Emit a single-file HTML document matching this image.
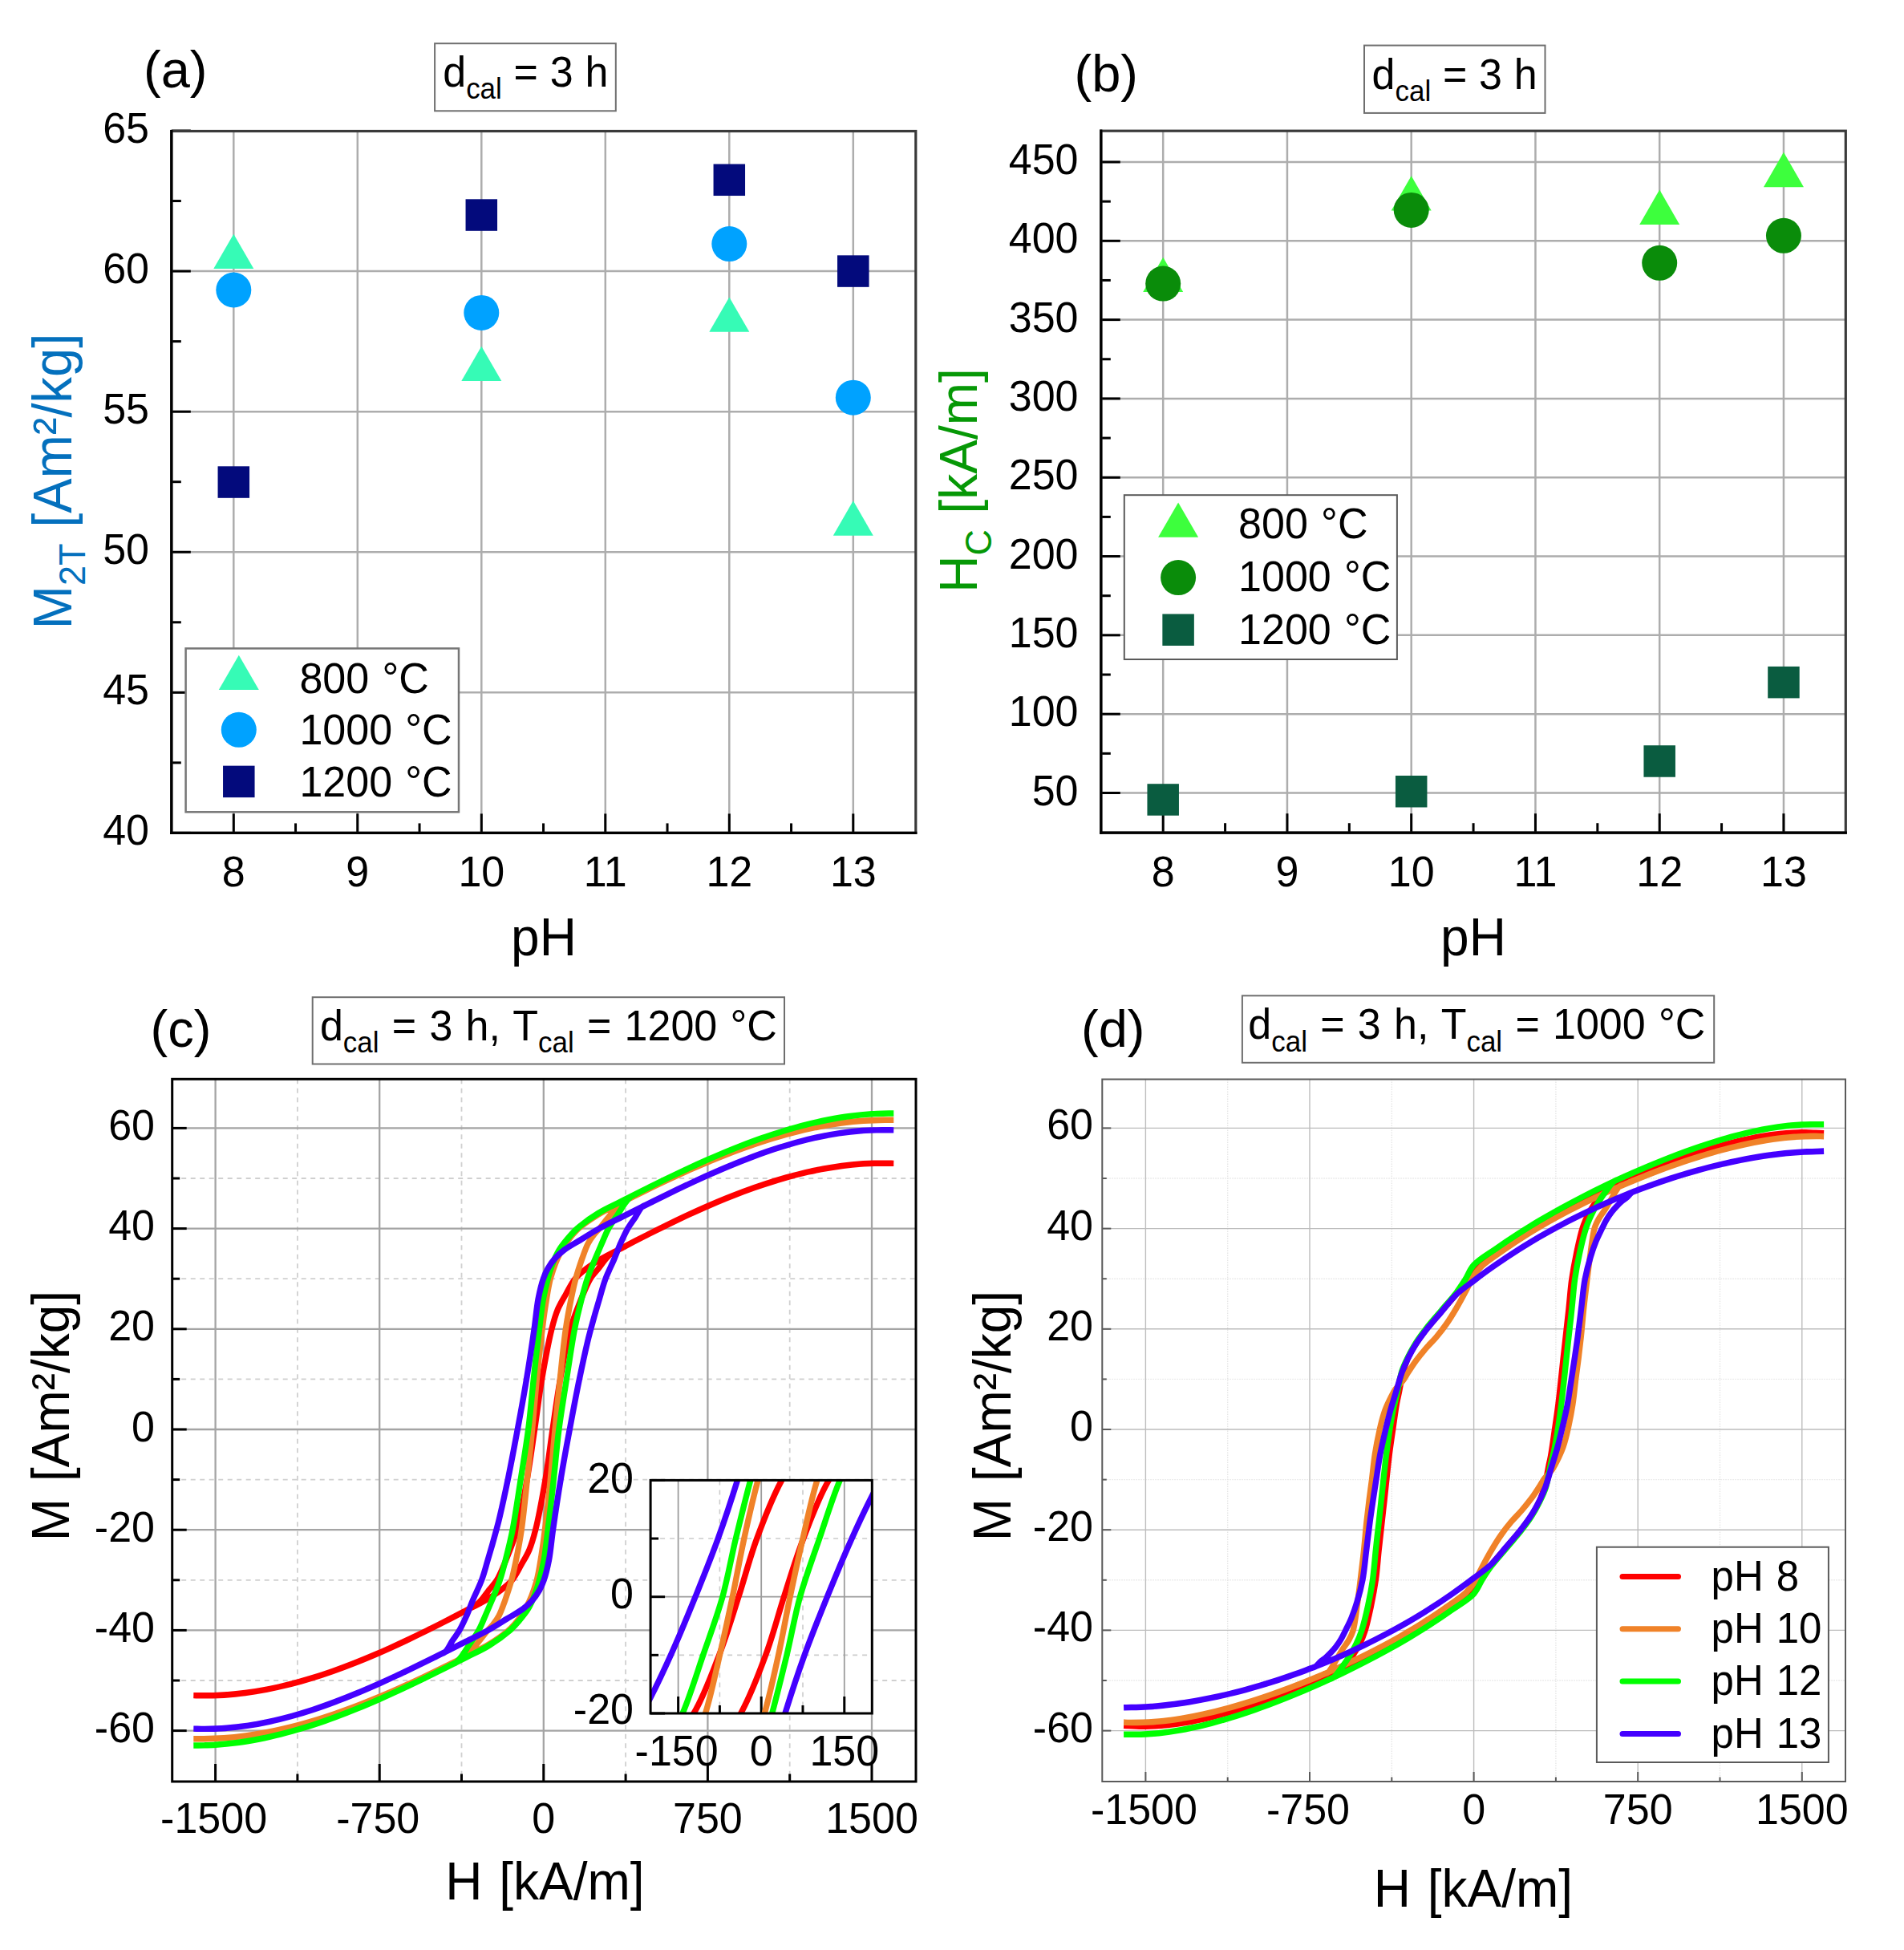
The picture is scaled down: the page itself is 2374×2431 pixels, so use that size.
<!DOCTYPE html>
<html><head><meta charset="utf-8"><title>Figure</title>
<style>
html,body{margin:0;padding:0;background:#fff;}
svg{display:block;font-family:'Liberation Sans', Arial, sans-serif;}
</style></head>
<body>
<svg word-spacing="1.8" width="2374" height="2431" viewBox="0 0 2374 2431" font-family="'Liberation Sans', Arial, sans-serif">
<rect x="0" y="0" width="2374" height="2431" fill="#ffffff"/>
<line x1="291.30" y1="163.50" x2="291.30" y2="1038.40" stroke="#adadad" stroke-width="2.5" />
<line x1="445.80" y1="163.50" x2="445.80" y2="1038.40" stroke="#adadad" stroke-width="2.5" />
<line x1="600.30" y1="163.50" x2="600.30" y2="1038.40" stroke="#adadad" stroke-width="2.5" />
<line x1="754.80" y1="163.50" x2="754.80" y2="1038.40" stroke="#adadad" stroke-width="2.5" />
<line x1="909.30" y1="163.50" x2="909.30" y2="1038.40" stroke="#adadad" stroke-width="2.5" />
<line x1="1063.80" y1="163.50" x2="1063.80" y2="1038.40" stroke="#adadad" stroke-width="2.5" />
<line x1="213.80" y1="863.32" x2="1141.80" y2="863.32" stroke="#adadad" stroke-width="2.5" />
<line x1="213.80" y1="688.24" x2="1141.80" y2="688.24" stroke="#adadad" stroke-width="2.5" />
<line x1="213.80" y1="513.16" x2="1141.80" y2="513.16" stroke="#adadad" stroke-width="2.5" />
<line x1="213.80" y1="338.08" x2="1141.80" y2="338.08" stroke="#adadad" stroke-width="2.5" />
<line x1="291.30" y1="1038.40" x2="291.30" y2="1014.40" stroke="#000" stroke-width="3" />
<line x1="445.80" y1="1038.40" x2="445.80" y2="1014.40" stroke="#000" stroke-width="3" />
<line x1="600.30" y1="1038.40" x2="600.30" y2="1014.40" stroke="#000" stroke-width="3" />
<line x1="754.80" y1="1038.40" x2="754.80" y2="1014.40" stroke="#000" stroke-width="3" />
<line x1="909.30" y1="1038.40" x2="909.30" y2="1014.40" stroke="#000" stroke-width="3" />
<line x1="1063.80" y1="1038.40" x2="1063.80" y2="1014.40" stroke="#000" stroke-width="3" />
<line x1="368.55" y1="1038.40" x2="368.55" y2="1026.40" stroke="#000" stroke-width="3" />
<line x1="523.05" y1="1038.40" x2="523.05" y2="1026.40" stroke="#000" stroke-width="3" />
<line x1="677.55" y1="1038.40" x2="677.55" y2="1026.40" stroke="#000" stroke-width="3" />
<line x1="832.05" y1="1038.40" x2="832.05" y2="1026.40" stroke="#000" stroke-width="3" />
<line x1="986.55" y1="1038.40" x2="986.55" y2="1026.40" stroke="#000" stroke-width="3" />
<line x1="213.80" y1="1038.40" x2="237.80" y2="1038.40" stroke="#000" stroke-width="3" />
<line x1="213.80" y1="863.32" x2="237.80" y2="863.32" stroke="#000" stroke-width="3" />
<line x1="213.80" y1="688.24" x2="237.80" y2="688.24" stroke="#000" stroke-width="3" />
<line x1="213.80" y1="513.16" x2="237.80" y2="513.16" stroke="#000" stroke-width="3" />
<line x1="213.80" y1="338.08" x2="237.80" y2="338.08" stroke="#000" stroke-width="3" />
<line x1="213.80" y1="163.00" x2="237.80" y2="163.00" stroke="#000" stroke-width="3" />
<line x1="213.80" y1="950.86" x2="225.80" y2="950.86" stroke="#000" stroke-width="3" />
<line x1="213.80" y1="775.78" x2="225.80" y2="775.78" stroke="#000" stroke-width="3" />
<line x1="213.80" y1="600.70" x2="225.80" y2="600.70" stroke="#000" stroke-width="3" />
<line x1="213.80" y1="425.62" x2="225.80" y2="425.62" stroke="#000" stroke-width="3" />
<line x1="213.80" y1="250.54" x2="225.80" y2="250.54" stroke="#000" stroke-width="3" />
<polygon points="291.30,291.71 266.30,335.01 316.30,335.01" fill="#36fbb6"/>
<polygon points="600.30,431.77 575.30,475.07 625.30,475.07" fill="#36fbb6"/>
<polygon points="909.30,370.49 884.30,413.79 934.30,413.79" fill="#36fbb6"/>
<polygon points="1063.80,624.36 1038.80,667.66 1088.80,667.66" fill="#36fbb6"/>
<circle cx="291.30" cy="361.54" r="22.0" fill="#00a2ff"/>
<circle cx="600.30" cy="389.90" r="22.0" fill="#00a2ff"/>
<circle cx="909.30" cy="304.11" r="22.0" fill="#00a2ff"/>
<circle cx="1063.80" cy="495.65" r="22.0" fill="#00a2ff"/>
<rect x="271.55" y="581.30" width="39.5" height="39.5" fill="#030a7c"/>
<rect x="580.55" y="248.30" width="39.5" height="39.5" fill="#030a7c"/>
<rect x="889.55" y="204.53" width="39.5" height="39.5" fill="#030a7c"/>
<rect x="1044.05" y="318.33" width="39.5" height="39.5" fill="#030a7c"/>
<rect x="213.80" y="163.50" width="928.00" height="874.90" fill="none" stroke="#3a3a3a" stroke-width="3.2"/>
<line x1="213.80" y1="161.90" x2="213.80" y2="1040.00" stroke="#000" stroke-width="3.2" />
<line x1="212.20" y1="1038.40" x2="1143.40" y2="1038.40" stroke="#000" stroke-width="3.2" />
<text transform="translate(291.30,1104.50) scale(1,1.04)" font-size="52" text-anchor="middle" fill="#000" >8</text>
<text transform="translate(445.80,1104.50) scale(1,1.04)" font-size="52" text-anchor="middle" fill="#000" >9</text>
<text transform="translate(600.30,1104.50) scale(1,1.04)" font-size="52" text-anchor="middle" fill="#000" >10</text>
<text transform="translate(754.80,1104.50) scale(1,1.04)" font-size="52" text-anchor="middle" fill="#000" >11</text>
<text transform="translate(909.30,1104.50) scale(1,1.04)" font-size="52" text-anchor="middle" fill="#000" >12</text>
<text transform="translate(1063.80,1104.50) scale(1,1.04)" font-size="52" text-anchor="middle" fill="#000" >13</text>
<text transform="translate(186.00,1053.40) scale(1,1.04)" font-size="52" text-anchor="end" fill="#000" >40</text>
<text transform="translate(186.00,878.32) scale(1,1.04)" font-size="52" text-anchor="end" fill="#000" >45</text>
<text transform="translate(186.00,703.24) scale(1,1.04)" font-size="52" text-anchor="end" fill="#000" >50</text>
<text transform="translate(186.00,528.16) scale(1,1.04)" font-size="52" text-anchor="end" fill="#000" >55</text>
<text transform="translate(186.00,353.08) scale(1,1.04)" font-size="52" text-anchor="end" fill="#000" >60</text>
<text transform="translate(186.00,178.00) scale(1,1.04)" font-size="52" text-anchor="end" fill="#000" >65</text>
<rect x="231.60" y="808.40" width="340.40" height="203.90" fill="#fff" stroke="#767676" stroke-width="2.5"/>
<polygon points="297.80,816.73 272.80,860.03 322.80,860.03" fill="#36fbb6"/>
<circle cx="297.80" cy="909.80" r="22.0" fill="#00a2ff"/>
<rect x="278.05" y="954.65" width="39.5" height="39.5" fill="#030a7c"/>
<text transform="translate(373.40,863.50) scale(1,1.04)" font-size="52" text-anchor="start" fill="#000" >800 °C</text>
<text transform="translate(373.40,928.10) scale(1,1.04)" font-size="52" text-anchor="start" fill="#000" >1000 °C</text>
<text transform="translate(373.40,992.70) scale(1,1.04)" font-size="52" text-anchor="start" fill="#000" >1200 °C</text>
<rect x="542.10" y="54.20" width="225.70" height="84.10" fill="#fff" stroke="#6e6e6e" stroke-width="2"/>
<text transform="translate(552.20,107.80) scale(1,1.04)" font-size="52" text-anchor="start" fill="#000" word-spacing="0.3">d<tspan font-size="35" dy="15">cal</tspan><tspan dy="-15"> = 3 h</tspan></text>
<text transform="translate(179.00,108.70) scale(1,1.0)" font-size="65" text-anchor="start" fill="#000" >(a)</text>
<text transform="translate(678.00,1191.00) scale(1,1.04)" font-size="64" text-anchor="middle" fill="#000" >pH</text>
<text transform="translate(88.5,600) rotate(-90) scale(1,1.04)" font-size="65" text-anchor="middle" fill="#0470bd">M<tspan font-size="45" dy="17">2T</tspan><tspan dy="-17"> [Am²/kg]</tspan></text>
<line x1="1450.20" y1="163.20" x2="1450.20" y2="1038.20" stroke="#adadad" stroke-width="2.5" />
<line x1="1604.95" y1="163.20" x2="1604.95" y2="1038.20" stroke="#adadad" stroke-width="2.5" />
<line x1="1759.70" y1="163.20" x2="1759.70" y2="1038.20" stroke="#adadad" stroke-width="2.5" />
<line x1="1914.45" y1="163.20" x2="1914.45" y2="1038.20" stroke="#adadad" stroke-width="2.5" />
<line x1="2069.20" y1="163.20" x2="2069.20" y2="1038.20" stroke="#adadad" stroke-width="2.5" />
<line x1="2223.95" y1="163.20" x2="2223.95" y2="1038.20" stroke="#adadad" stroke-width="2.5" />
<line x1="1372.80" y1="988.50" x2="2301.30" y2="988.50" stroke="#adadad" stroke-width="2.5" />
<line x1="1372.80" y1="890.18" x2="2301.30" y2="890.18" stroke="#adadad" stroke-width="2.5" />
<line x1="1372.80" y1="791.87" x2="2301.30" y2="791.87" stroke="#adadad" stroke-width="2.5" />
<line x1="1372.80" y1="693.56" x2="2301.30" y2="693.56" stroke="#adadad" stroke-width="2.5" />
<line x1="1372.80" y1="595.24" x2="2301.30" y2="595.24" stroke="#adadad" stroke-width="2.5" />
<line x1="1372.80" y1="496.93" x2="2301.30" y2="496.93" stroke="#adadad" stroke-width="2.5" />
<line x1="1372.80" y1="398.61" x2="2301.30" y2="398.61" stroke="#adadad" stroke-width="2.5" />
<line x1="1372.80" y1="300.30" x2="2301.30" y2="300.30" stroke="#adadad" stroke-width="2.5" />
<line x1="1372.80" y1="201.98" x2="2301.30" y2="201.98" stroke="#adadad" stroke-width="2.5" />
<line x1="1450.20" y1="1038.20" x2="1450.20" y2="1014.20" stroke="#000" stroke-width="3" />
<line x1="1604.95" y1="1038.20" x2="1604.95" y2="1014.20" stroke="#000" stroke-width="3" />
<line x1="1759.70" y1="1038.20" x2="1759.70" y2="1014.20" stroke="#000" stroke-width="3" />
<line x1="1914.45" y1="1038.20" x2="1914.45" y2="1014.20" stroke="#000" stroke-width="3" />
<line x1="2069.20" y1="1038.20" x2="2069.20" y2="1014.20" stroke="#000" stroke-width="3" />
<line x1="2223.95" y1="1038.20" x2="2223.95" y2="1014.20" stroke="#000" stroke-width="3" />
<line x1="1527.58" y1="1038.20" x2="1527.58" y2="1026.20" stroke="#000" stroke-width="3" />
<line x1="1682.33" y1="1038.20" x2="1682.33" y2="1026.20" stroke="#000" stroke-width="3" />
<line x1="1837.08" y1="1038.20" x2="1837.08" y2="1026.20" stroke="#000" stroke-width="3" />
<line x1="1991.83" y1="1038.20" x2="1991.83" y2="1026.20" stroke="#000" stroke-width="3" />
<line x1="2146.57" y1="1038.20" x2="2146.57" y2="1026.20" stroke="#000" stroke-width="3" />
<line x1="1372.80" y1="988.50" x2="1396.80" y2="988.50" stroke="#000" stroke-width="3" />
<line x1="1372.80" y1="890.18" x2="1396.80" y2="890.18" stroke="#000" stroke-width="3" />
<line x1="1372.80" y1="791.87" x2="1396.80" y2="791.87" stroke="#000" stroke-width="3" />
<line x1="1372.80" y1="693.56" x2="1396.80" y2="693.56" stroke="#000" stroke-width="3" />
<line x1="1372.80" y1="595.24" x2="1396.80" y2="595.24" stroke="#000" stroke-width="3" />
<line x1="1372.80" y1="496.93" x2="1396.80" y2="496.93" stroke="#000" stroke-width="3" />
<line x1="1372.80" y1="398.61" x2="1396.80" y2="398.61" stroke="#000" stroke-width="3" />
<line x1="1372.80" y1="300.30" x2="1396.80" y2="300.30" stroke="#000" stroke-width="3" />
<line x1="1372.80" y1="201.98" x2="1396.80" y2="201.98" stroke="#000" stroke-width="3" />
<line x1="1372.80" y1="939.34" x2="1384.80" y2="939.34" stroke="#000" stroke-width="3" />
<line x1="1372.80" y1="841.03" x2="1384.80" y2="841.03" stroke="#000" stroke-width="3" />
<line x1="1372.80" y1="742.71" x2="1384.80" y2="742.71" stroke="#000" stroke-width="3" />
<line x1="1372.80" y1="644.40" x2="1384.80" y2="644.40" stroke="#000" stroke-width="3" />
<line x1="1372.80" y1="546.08" x2="1384.80" y2="546.08" stroke="#000" stroke-width="3" />
<line x1="1372.80" y1="447.77" x2="1384.80" y2="447.77" stroke="#000" stroke-width="3" />
<line x1="1372.80" y1="349.45" x2="1384.80" y2="349.45" stroke="#000" stroke-width="3" />
<line x1="1372.80" y1="251.14" x2="1384.80" y2="251.14" stroke="#000" stroke-width="3" />
<polygon points="1450.20,320.78 1425.20,364.08 1475.20,364.08" fill="#3dff3d"/>
<polygon points="1759.70,219.32 1734.70,262.62 1784.70,262.62" fill="#3dff3d"/>
<polygon points="2069.20,236.62 2044.20,279.92 2094.20,279.92" fill="#3dff3d"/>
<polygon points="2223.95,189.83 2198.95,233.13 2248.95,233.13" fill="#3dff3d"/>
<circle cx="1450.20" cy="353.58" r="22.0" fill="#0a8c0a"/>
<circle cx="1759.70" cy="261.95" r="22.0" fill="#0a8c0a"/>
<circle cx="2069.20" cy="327.82" r="22.0" fill="#0a8c0a"/>
<circle cx="2223.95" cy="293.81" r="22.0" fill="#0a8c0a"/>
<rect x="1430.45" y="977.21" width="39.5" height="39.5" fill="#0a5c40"/>
<rect x="1739.95" y="966.98" width="39.5" height="39.5" fill="#0a5c40"/>
<rect x="2049.45" y="929.23" width="39.5" height="39.5" fill="#0a5c40"/>
<rect x="2204.20" y="830.91" width="39.5" height="39.5" fill="#0a5c40"/>
<rect x="1372.80" y="163.20" width="928.50" height="875.00" fill="none" stroke="#3a3a3a" stroke-width="3.2"/>
<line x1="1372.80" y1="161.60" x2="1372.80" y2="1039.80" stroke="#000" stroke-width="3.2" />
<line x1="1371.20" y1="1038.20" x2="2302.90" y2="1038.20" stroke="#000" stroke-width="3.2" />
<text transform="translate(1450.20,1104.50) scale(1,1.04)" font-size="52" text-anchor="middle" fill="#000" >8</text>
<text transform="translate(1604.95,1104.50) scale(1,1.04)" font-size="52" text-anchor="middle" fill="#000" >9</text>
<text transform="translate(1759.70,1104.50) scale(1,1.04)" font-size="52" text-anchor="middle" fill="#000" >10</text>
<text transform="translate(1914.45,1104.50) scale(1,1.04)" font-size="52" text-anchor="middle" fill="#000" >11</text>
<text transform="translate(2069.20,1104.50) scale(1,1.04)" font-size="52" text-anchor="middle" fill="#000" >12</text>
<text transform="translate(2223.95,1104.50) scale(1,1.04)" font-size="52" text-anchor="middle" fill="#000" >13</text>
<text transform="translate(1344.50,1003.50) scale(1,1.04)" font-size="52" text-anchor="end" fill="#000" >50</text>
<text transform="translate(1344.50,905.18) scale(1,1.04)" font-size="52" text-anchor="end" fill="#000" >100</text>
<text transform="translate(1344.50,806.87) scale(1,1.04)" font-size="52" text-anchor="end" fill="#000" >150</text>
<text transform="translate(1344.50,708.56) scale(1,1.04)" font-size="52" text-anchor="end" fill="#000" >200</text>
<text transform="translate(1344.50,610.24) scale(1,1.04)" font-size="52" text-anchor="end" fill="#000" >250</text>
<text transform="translate(1344.50,511.93) scale(1,1.04)" font-size="52" text-anchor="end" fill="#000" >300</text>
<text transform="translate(1344.50,413.61) scale(1,1.04)" font-size="52" text-anchor="end" fill="#000" >350</text>
<text transform="translate(1344.50,315.30) scale(1,1.04)" font-size="52" text-anchor="end" fill="#000" >400</text>
<text transform="translate(1344.50,216.98) scale(1,1.04)" font-size="52" text-anchor="end" fill="#000" >450</text>
<rect x="1401.80" y="617.20" width="340.10" height="204.80" fill="#fff" stroke="#5a5a5a" stroke-width="2"/>
<polygon points="1469.10,626.53 1444.10,669.83 1494.10,669.83" fill="#3dff3d"/>
<circle cx="1469.10" cy="720.10" r="22.0" fill="#0a8c0a"/>
<rect x="1449.35" y="765.45" width="39.5" height="39.5" fill="#0a5c40"/>
<text transform="translate(1544.10,671.30) scale(1,1.04)" font-size="52" text-anchor="start" fill="#000" >800 °C</text>
<text transform="translate(1544.10,737.40) scale(1,1.04)" font-size="52" text-anchor="start" fill="#000" >1000 °C</text>
<text transform="translate(1544.10,802.90) scale(1,1.04)" font-size="52" text-anchor="start" fill="#000" >1200 °C</text>
<rect x="1701.00" y="56.60" width="225.50" height="84.30" fill="#fff" stroke="#6e6e6e" stroke-width="2"/>
<text transform="translate(1710.60,110.80) scale(1,1.04)" font-size="52" text-anchor="start" fill="#000" word-spacing="0.3">d<tspan font-size="35" dy="15">cal</tspan><tspan dy="-15"> = 3 h</tspan></text>
<text transform="translate(1339.50,113.50) scale(1,1.0)" font-size="65" text-anchor="start" fill="#000" >(b)</text>
<text transform="translate(1837.00,1190.50) scale(1,1.04)" font-size="64" text-anchor="middle" fill="#000" >pH</text>
<text transform="translate(1218,599) rotate(-90) scale(1,1.04)" font-size="64" text-anchor="middle" fill="#069806">H<tspan font-size="45" dy="17">C</tspan><tspan dy="-17"> [kA/m]</tspan></text>
<line x1="370.90" y1="1345.30" x2="370.90" y2="2221.00" stroke="#d0d0d0" stroke-width="1.8" stroke-dasharray="6,5.5"/>
<line x1="575.50" y1="1345.30" x2="575.50" y2="2221.00" stroke="#d0d0d0" stroke-width="1.8" stroke-dasharray="6,5.5"/>
<line x1="780.10" y1="1345.30" x2="780.10" y2="2221.00" stroke="#d0d0d0" stroke-width="1.8" stroke-dasharray="6,5.5"/>
<line x1="984.70" y1="1345.30" x2="984.70" y2="2221.00" stroke="#d0d0d0" stroke-width="1.8" stroke-dasharray="6,5.5"/>
<line x1="214.70" y1="2095.00" x2="1142.00" y2="2095.00" stroke="#d0d0d0" stroke-width="1.8" stroke-dasharray="6,5.5"/>
<line x1="214.70" y1="1969.80" x2="1142.00" y2="1969.80" stroke="#d0d0d0" stroke-width="1.8" stroke-dasharray="6,5.5"/>
<line x1="214.70" y1="1844.60" x2="1142.00" y2="1844.60" stroke="#d0d0d0" stroke-width="1.8" stroke-dasharray="6,5.5"/>
<line x1="214.70" y1="1719.40" x2="1142.00" y2="1719.40" stroke="#d0d0d0" stroke-width="1.8" stroke-dasharray="6,5.5"/>
<line x1="214.70" y1="1594.20" x2="1142.00" y2="1594.20" stroke="#d0d0d0" stroke-width="1.8" stroke-dasharray="6,5.5"/>
<line x1="214.70" y1="1469.00" x2="1142.00" y2="1469.00" stroke="#d0d0d0" stroke-width="1.8" stroke-dasharray="6,5.5"/>
<line x1="268.60" y1="1345.30" x2="268.60" y2="2221.00" stroke="#a4a4a4" stroke-width="2.3" />
<line x1="473.20" y1="1345.30" x2="473.20" y2="2221.00" stroke="#a4a4a4" stroke-width="2.3" />
<line x1="677.80" y1="1345.30" x2="677.80" y2="2221.00" stroke="#a4a4a4" stroke-width="2.3" />
<line x1="882.40" y1="1345.30" x2="882.40" y2="2221.00" stroke="#a4a4a4" stroke-width="2.3" />
<line x1="1087.00" y1="1345.30" x2="1087.00" y2="2221.00" stroke="#a4a4a4" stroke-width="2.3" />
<line x1="214.70" y1="2157.60" x2="1142.00" y2="2157.60" stroke="#a4a4a4" stroke-width="2.3" />
<line x1="214.70" y1="2032.40" x2="1142.00" y2="2032.40" stroke="#a4a4a4" stroke-width="2.3" />
<line x1="214.70" y1="1907.20" x2="1142.00" y2="1907.20" stroke="#a4a4a4" stroke-width="2.3" />
<line x1="214.70" y1="1782.00" x2="1142.00" y2="1782.00" stroke="#a4a4a4" stroke-width="2.3" />
<line x1="214.70" y1="1656.80" x2="1142.00" y2="1656.80" stroke="#a4a4a4" stroke-width="2.3" />
<line x1="214.70" y1="1531.60" x2="1142.00" y2="1531.60" stroke="#a4a4a4" stroke-width="2.3" />
<line x1="214.70" y1="1406.40" x2="1142.00" y2="1406.40" stroke="#a4a4a4" stroke-width="2.3" />
<line x1="268.60" y1="2221.00" x2="268.60" y2="2199.00" stroke="#000" stroke-width="3" />
<line x1="473.20" y1="2221.00" x2="473.20" y2="2199.00" stroke="#000" stroke-width="3" />
<line x1="677.80" y1="2221.00" x2="677.80" y2="2199.00" stroke="#000" stroke-width="3" />
<line x1="882.40" y1="2221.00" x2="882.40" y2="2199.00" stroke="#000" stroke-width="3" />
<line x1="1087.00" y1="2221.00" x2="1087.00" y2="2199.00" stroke="#000" stroke-width="3" />
<line x1="370.90" y1="2221.00" x2="370.90" y2="2211.50" stroke="#000" stroke-width="3" />
<line x1="575.50" y1="2221.00" x2="575.50" y2="2211.50" stroke="#000" stroke-width="3" />
<line x1="780.10" y1="2221.00" x2="780.10" y2="2211.50" stroke="#000" stroke-width="3" />
<line x1="984.70" y1="2221.00" x2="984.70" y2="2211.50" stroke="#000" stroke-width="3" />
<line x1="214.70" y1="2157.60" x2="232.70" y2="2157.60" stroke="#000" stroke-width="3" />
<line x1="214.70" y1="2032.40" x2="232.70" y2="2032.40" stroke="#000" stroke-width="3" />
<line x1="214.70" y1="1907.20" x2="232.70" y2="1907.20" stroke="#000" stroke-width="3" />
<line x1="214.70" y1="1782.00" x2="232.70" y2="1782.00" stroke="#000" stroke-width="3" />
<line x1="214.70" y1="1656.80" x2="232.70" y2="1656.80" stroke="#000" stroke-width="3" />
<line x1="214.70" y1="1531.60" x2="232.70" y2="1531.60" stroke="#000" stroke-width="3" />
<line x1="214.70" y1="1406.40" x2="232.70" y2="1406.40" stroke="#000" stroke-width="3" />
<line x1="214.70" y1="2095.00" x2="224.20" y2="2095.00" stroke="#000" stroke-width="3" />
<line x1="214.70" y1="1969.80" x2="224.20" y2="1969.80" stroke="#000" stroke-width="3" />
<line x1="214.70" y1="1844.60" x2="224.20" y2="1844.60" stroke="#000" stroke-width="3" />
<line x1="214.70" y1="1719.40" x2="224.20" y2="1719.40" stroke="#000" stroke-width="3" />
<line x1="214.70" y1="1594.20" x2="224.20" y2="1594.20" stroke="#000" stroke-width="3" />
<line x1="214.70" y1="1469.00" x2="224.20" y2="1469.00" stroke="#000" stroke-width="3" />
<path d="M1114.3,1450.4C1111.0,1450.3 1108.6,1450.1 1104.5,1450.1C1097.6,1450.1 1086.3,1450.3 1077.2,1450.8C1068.1,1451.4 1059.0,1452.3 1049.9,1453.5C1040.8,1454.7 1031.7,1456.2 1022.6,1457.9C1013.5,1459.7 1004.4,1461.7 995.3,1464.0C986.2,1466.3 977.1,1468.9 968.1,1471.6C958.9,1474.4 949.8,1477.4 940.8,1480.6C931.7,1483.8 922.6,1487.2 913.5,1490.8C904.4,1494.3 895.3,1498.1 886.2,1502.0C877.1,1505.9 868.0,1510.0 858.9,1514.2C849.8,1518.4 840.7,1522.8 831.7,1527.2C822.5,1531.6 813.5,1536.2 804.4,1540.8C795.3,1545.4 786.2,1550.1 777.1,1554.9C768.0,1559.7 758.0,1564.5 749.8,1569.3C742.9,1573.5 736.6,1577.3 731.0,1581.7C725.8,1585.7 721.2,1589.3 717.1,1594.2C712.7,1599.6 709.4,1606.7 705.8,1613.0C702.3,1619.2 698.6,1624.9 695.7,1631.8C692.5,1639.4 690.5,1646.5 687.9,1656.8C683.8,1672.9 679.2,1698.5 675.6,1719.4C672.1,1740.2 669.7,1761.1 666.6,1782.0C663.5,1802.9 660.7,1823.8 657.1,1844.6C653.4,1865.5 649.6,1889.1 644.5,1907.2C640.5,1921.5 635.4,1933.6 630.9,1944.8C627.1,1954.0 623.7,1963.1 619.6,1969.8C616.4,1974.9 612.9,1978.1 609.6,1982.3C606.4,1986.5 603.1,1991.4 600.1,1994.8C597.7,1997.5 595.5,1999.7 593.2,2001.3C591.4,2002.7 589.8,2003.2 587.8,2004.2C585.3,2005.5 582.7,2006.9 579.6,2008.5C575.6,2010.6 571.3,2012.9 566.0,2015.7C558.4,2019.5 547.8,2025.0 538.7,2029.5C529.6,2034.1 520.5,2038.5 511.4,2042.9C502.3,2047.2 493.2,2051.4 484.1,2055.5C475.0,2059.6 466.0,2063.5 456.8,2067.3C447.8,2071.0 438.7,2074.6 429.6,2078.1C420.5,2081.5 411.4,2084.7 402.3,2087.7C393.2,2090.7 384.1,2093.5 375.0,2096.1C365.9,2098.6 356.8,2100.9 347.7,2103.0C338.6,2105.0 329.5,2106.8 320.4,2108.3C311.4,2109.8 302.3,2111.1 293.2,2112.0C284.1,2112.9 274.7,2113.5 265.9,2113.7C257.5,2114.0 249.5,2113.7 241.3,2113.6 M241.3,2113.6C244.6,2113.7 247.0,2113.9 251.1,2113.9C258.0,2113.9 269.3,2113.7 278.4,2113.2C287.5,2112.6 296.6,2111.7 305.7,2110.5C314.8,2109.3 323.9,2107.8 333.0,2106.1C342.1,2104.3 351.2,2102.3 360.3,2100.0C369.4,2097.7 378.5,2095.1 387.5,2092.4C396.7,2089.6 405.8,2086.6 414.8,2083.4C423.9,2080.2 433.0,2076.8 442.1,2073.2C451.2,2069.7 460.3,2065.9 469.4,2062.0C478.5,2058.1 487.6,2054.0 496.7,2049.8C505.8,2045.6 514.9,2041.2 523.9,2036.8C533.1,2032.4 542.1,2027.8 551.2,2023.2C560.3,2018.6 569.4,2013.9 578.5,2009.1C587.6,2004.3 597.6,1999.5 605.8,1994.7C612.7,1990.5 619.0,1986.7 624.6,1982.3C629.8,1978.3 634.4,1974.7 638.5,1969.8C642.9,1964.4 646.2,1957.3 649.8,1951.0C653.3,1944.8 657.0,1939.1 659.9,1932.2C663.1,1924.6 665.1,1917.5 667.7,1907.2C671.8,1891.1 676.4,1865.5 680.0,1844.6C683.5,1823.8 685.9,1802.9 689.0,1782.0C692.1,1761.1 694.9,1740.2 698.5,1719.4C702.2,1698.5 706.0,1674.9 711.1,1656.8C715.1,1642.5 720.2,1630.4 724.7,1619.2C728.5,1610.0 731.9,1600.9 736.0,1594.2C739.2,1589.1 742.7,1585.9 746.0,1581.7C749.2,1577.5 752.5,1572.6 755.5,1569.2C757.9,1566.5 760.1,1564.3 762.4,1562.7C764.2,1561.3 765.8,1560.8 767.8,1559.8C770.3,1558.5 772.9,1557.1 776.0,1555.5C780.0,1553.4 784.3,1551.1 789.6,1548.3C797.2,1544.5 807.8,1539.0 816.9,1534.5C826.0,1529.9 835.1,1525.5 844.2,1521.1C853.3,1516.8 862.4,1512.6 871.5,1508.5C880.6,1504.4 889.6,1500.5 898.8,1496.7C907.8,1493.0 916.9,1489.4 926.0,1485.9C935.1,1482.5 944.2,1479.3 953.3,1476.3C962.4,1473.3 971.5,1470.5 980.6,1467.9C989.7,1465.4 998.8,1463.1 1007.9,1461.0C1017.0,1459.0 1026.1,1457.2 1035.2,1455.7C1044.2,1454.2 1053.3,1452.9 1062.4,1452.0C1071.5,1451.1 1080.9,1450.5 1089.7,1450.3C1098.1,1450.0 1106.1,1450.3 1114.3,1450.4" fill="none" stroke="#ff0000" stroke-width="7.4" stroke-linejoin="round"/>
<path d="M1114.3,1396.3C1109.7,1396.3 1106.0,1396.1 1100.6,1396.2C1093.1,1396.3 1082.4,1396.7 1073.4,1397.4C1064.3,1398.1 1055.2,1399.2 1046.1,1400.4C1037.0,1401.7 1027.9,1403.3 1018.8,1405.1C1009.7,1406.9 1000.6,1409.0 991.5,1411.3C982.4,1413.6 973.3,1416.2 964.2,1418.9C955.1,1421.7 946.0,1424.6 937.0,1427.8C927.8,1430.9 918.7,1434.3 909.7,1437.7C900.6,1441.3 891.5,1444.9 882.4,1448.7C873.3,1452.5 864.2,1456.5 855.1,1460.6C846.0,1464.7 836.9,1468.9 827.8,1473.2C818.7,1477.5 809.6,1481.9 800.6,1486.4C791.5,1490.8 782.4,1495.4 773.3,1500.0C764.2,1504.6 754.9,1508.5 746.0,1514.0C736.7,1519.8 726.6,1526.2 718.7,1534.1C710.9,1541.9 704.4,1551.3 699.1,1561.0C693.7,1570.7 689.9,1581.6 686.8,1592.3C683.7,1603.1 682.3,1614.6 680.5,1625.5C678.8,1636.1 677.7,1644.6 676.2,1656.8C674.0,1674.1 671.4,1698.5 669.3,1719.4C667.3,1740.3 665.6,1761.1 663.6,1782.0C661.6,1802.9 659.6,1823.7 657.3,1844.6C655.1,1865.5 652.9,1889.0 650.2,1907.2C648.2,1921.3 645.8,1933.5 643.5,1944.8C641.6,1954.0 640.1,1961.5 637.8,1969.8C635.5,1978.3 632.4,1987.4 629.7,1995.2C627.2,2002.1 625.0,2008.9 622.1,2014.2C619.8,2018.6 617.0,2022.3 614.5,2025.5C612.4,2028.2 610.6,2029.6 608.2,2032.4C604.7,2036.5 599.6,2043.4 595.7,2048.1C592.4,2052.0 589.4,2055.6 586.4,2058.7C583.9,2061.3 581.7,2063.9 579.3,2065.5C577.5,2066.8 575.9,2067.3 573.9,2068.3C571.4,2069.5 568.8,2070.8 565.7,2072.4C561.7,2074.3 557.4,2076.5 552.0,2079.1C544.5,2082.8 533.9,2088.0 524.8,2092.3C515.7,2096.5 506.6,2100.7 497.5,2104.8C488.4,2108.8 479.3,2112.7 470.2,2116.5C461.1,2120.3 452.0,2123.9 442.9,2127.4C433.9,2130.8 424.8,2134.2 415.6,2137.3C406.6,2140.4 397.5,2143.3 388.4,2146.0C379.3,2148.7 370.2,2151.2 361.1,2153.4C352.0,2155.7 342.9,2157.7 333.8,2159.5C324.7,2161.2 315.6,2162.7 306.5,2164.0C297.4,2165.2 288.3,2166.2 279.2,2166.8C270.2,2167.4 259.0,2167.7 252.0,2167.8C247.6,2167.9 244.9,2167.7 241.3,2167.7 M241.3,2167.7C245.9,2167.7 249.6,2167.9 255.0,2167.8C262.5,2167.7 273.2,2167.3 282.2,2166.6C291.3,2165.9 300.4,2164.8 309.5,2163.6C318.6,2162.3 327.7,2160.7 336.8,2158.9C345.9,2157.1 355.0,2155.0 364.1,2152.7C373.2,2150.4 382.3,2147.8 391.4,2145.1C400.5,2142.3 409.6,2139.4 418.6,2136.2C427.8,2133.1 436.9,2129.7 445.9,2126.3C455.0,2122.7 464.1,2119.1 473.2,2115.3C482.3,2111.5 491.4,2107.5 500.5,2103.4C509.6,2099.3 518.7,2095.1 527.8,2090.8C536.9,2086.5 546.0,2082.1 555.0,2077.6C564.1,2073.2 573.2,2068.6 582.3,2064.0C591.4,2059.4 600.7,2055.5 609.6,2050.0C618.9,2044.2 629.0,2037.8 636.9,2029.9C644.7,2022.1 651.2,2012.7 656.5,2003.0C661.9,1993.3 665.7,1982.4 668.8,1971.7C671.9,1960.9 673.3,1949.4 675.1,1938.5C676.8,1927.9 677.9,1919.4 679.4,1907.2C681.6,1889.9 684.2,1865.5 686.3,1844.6C688.3,1823.7 690.0,1802.9 692.0,1782.0C694.0,1761.1 696.0,1740.3 698.3,1719.4C700.5,1698.5 702.7,1675.0 705.4,1656.8C707.4,1642.7 709.8,1630.5 712.1,1619.2C714.0,1610.0 715.5,1602.5 717.8,1594.2C720.1,1585.7 723.2,1576.6 725.9,1568.8C728.4,1561.9 730.6,1555.1 733.5,1549.8C735.8,1545.4 738.6,1541.7 741.1,1538.5C743.2,1535.8 745.0,1534.4 747.4,1531.6C750.9,1527.5 756.0,1520.6 759.9,1516.0C763.2,1512.0 766.2,1508.4 769.2,1505.3C771.7,1502.7 773.9,1500.1 776.3,1498.5C778.1,1497.2 779.7,1496.7 781.7,1495.7C784.2,1494.5 786.8,1493.2 789.9,1491.6C793.9,1489.7 798.2,1487.5 803.6,1484.9C811.1,1481.2 821.7,1476.0 830.8,1471.7C839.9,1467.5 849.0,1463.3 858.1,1459.2C867.2,1455.2 876.3,1451.3 885.4,1447.5C894.5,1443.7 903.6,1440.1 912.7,1436.6C921.7,1433.2 930.8,1429.8 940.0,1426.7C949.0,1423.6 958.1,1420.7 967.2,1418.0C976.3,1415.3 985.4,1412.8 994.5,1410.6C1003.6,1408.3 1012.7,1406.3 1021.8,1404.5C1030.9,1402.8 1040.0,1401.3 1049.1,1400.0C1058.2,1398.8 1067.3,1397.8 1076.4,1397.2C1085.4,1396.6 1096.6,1396.3 1103.6,1396.2C1108.0,1396.1 1110.7,1396.3 1114.3,1396.3" fill="none" stroke="#f08228" stroke-width="7.4" stroke-linejoin="round"/>
<path d="M1114.3,1388.0C1109.7,1388.0 1106.0,1387.9 1100.6,1388.1C1093.1,1388.4 1082.4,1389.0 1073.4,1389.9C1064.3,1390.8 1055.2,1392.1 1046.1,1393.6C1037.0,1395.0 1027.9,1396.9 1018.8,1398.9C1009.7,1400.9 1000.6,1403.2 991.5,1405.7C982.4,1408.3 973.3,1411.1 964.2,1414.0C955.1,1417.0 946.0,1420.2 937.0,1423.5C927.8,1426.9 918.7,1430.4 909.7,1434.1C900.6,1437.8 891.5,1441.7 882.4,1445.7C873.3,1449.7 864.2,1453.8 855.1,1458.0C846.0,1462.3 836.9,1466.6 827.8,1471.0C818.7,1475.5 809.6,1480.0 800.6,1484.5C791.5,1489.1 782.4,1493.7 773.3,1498.4C764.2,1503.0 754.8,1507.0 746.0,1512.5C736.9,1518.0 726.4,1525.7 719.6,1531.6C714.9,1535.8 712.0,1539.2 708.4,1543.5C704.4,1548.2 700.2,1553.3 696.9,1558.7C693.6,1564.2 691.0,1570.4 688.7,1576.4C686.4,1582.2 684.8,1587.7 683.1,1594.2C681.0,1601.8 679.1,1610.0 677.4,1619.2C675.4,1630.5 674.2,1642.7 672.5,1656.8C670.2,1675.0 667.5,1698.5 665.3,1719.4C663.0,1740.3 661.4,1761.2 658.7,1782.0C656.0,1802.9 652.4,1823.7 649.2,1844.6C645.9,1865.5 642.6,1889.0 639.1,1907.2C636.3,1921.4 633.2,1933.5 630.3,1944.8C628.0,1954.0 626.1,1961.5 623.3,1969.8C620.5,1978.3 616.5,1987.4 613.3,1995.2C610.4,2002.0 607.8,2008.0 605.1,2014.2C602.4,2020.4 600.2,2026.4 596.9,2032.4C593.3,2038.9 588.1,2046.0 584.2,2051.8C581.1,2056.6 578.4,2061.2 575.5,2065.0C573.2,2067.9 571.0,2070.8 568.7,2072.6C566.9,2074.0 565.2,2074.3 563.2,2075.3C560.8,2076.6 558.1,2077.9 555.0,2079.5C551.1,2081.5 546.7,2083.6 541.4,2086.3C533.9,2090.0 523.2,2095.2 514.1,2099.5C505.0,2103.9 496.0,2108.1 486.8,2112.2C477.8,2116.3 468.7,2120.4 459.6,2124.2C450.5,2128.0 441.4,2131.8 432.3,2135.3C423.2,2138.8 414.1,2142.2 405.0,2145.4C395.9,2148.5 386.8,2151.5 377.7,2154.3C368.7,2157.0 359.6,2159.6 350.4,2161.9C341.4,2164.1 332.3,2166.2 323.2,2168.0C314.1,2169.7 305.0,2171.3 295.9,2172.5C286.8,2173.7 277.7,2174.6 268.6,2175.2C259.5,2175.8 250.4,2175.8 241.3,2176.0 M241.3,2176.0C245.9,2176.0 249.6,2176.1 255.0,2175.9C262.5,2175.6 273.2,2175.0 282.2,2174.1C291.3,2173.2 300.4,2171.9 309.5,2170.4C318.6,2169.0 327.7,2167.1 336.8,2165.1C345.9,2163.1 355.0,2160.8 364.1,2158.3C373.2,2155.7 382.3,2152.9 391.4,2150.0C400.5,2147.0 409.6,2143.8 418.6,2140.5C427.8,2137.1 436.9,2133.6 445.9,2129.9C455.0,2126.2 464.1,2122.3 473.2,2118.3C482.3,2114.3 491.4,2110.2 500.5,2106.0C509.6,2101.7 518.7,2097.4 527.8,2093.0C536.9,2088.5 546.0,2084.0 555.0,2079.5C564.1,2074.9 573.2,2070.3 582.3,2065.6C591.4,2061.0 600.8,2057.0 609.6,2051.5C618.7,2046.0 629.2,2038.3 636.0,2032.4C640.7,2028.2 643.6,2024.8 647.2,2020.5C651.2,2015.8 655.4,2010.7 658.7,2005.3C662.0,1999.8 664.6,1993.6 666.9,1987.6C669.2,1981.8 670.8,1976.3 672.5,1969.8C674.6,1962.2 676.5,1954.0 678.2,1944.8C680.2,1933.5 681.4,1921.3 683.1,1907.2C685.4,1889.0 688.1,1865.5 690.3,1844.6C692.6,1823.7 694.2,1802.8 696.9,1782.0C699.6,1761.1 703.2,1740.3 706.4,1719.4C709.7,1698.5 713.0,1675.0 716.5,1656.8C719.3,1642.6 722.4,1630.5 725.3,1619.2C727.6,1610.0 729.5,1602.5 732.3,1594.2C735.1,1585.7 739.1,1576.6 742.3,1568.8C745.2,1562.0 747.8,1556.0 750.5,1549.8C753.2,1543.6 755.4,1537.6 758.7,1531.6C762.3,1525.1 767.5,1518.0 771.4,1512.2C774.5,1507.4 777.2,1502.8 780.1,1499.0C782.4,1496.1 784.6,1493.2 786.9,1491.4C788.7,1490.0 790.4,1489.7 792.4,1488.7C794.8,1487.4 797.5,1486.1 800.6,1484.5C804.5,1482.5 808.9,1480.4 814.2,1477.7C821.7,1474.0 832.4,1468.8 841.5,1464.5C850.6,1460.1 859.6,1455.9 868.8,1451.8C877.8,1447.7 886.9,1443.6 896.0,1439.8C905.1,1436.0 914.2,1432.2 923.3,1428.7C932.4,1425.2 941.5,1421.8 950.6,1418.6C959.7,1415.5 968.8,1412.5 977.9,1409.7C986.9,1407.0 996.0,1404.4 1005.2,1402.1C1014.2,1399.9 1023.3,1397.8 1032.4,1396.0C1041.5,1394.3 1050.6,1392.7 1059.7,1391.5C1068.8,1390.3 1077.9,1389.4 1087.0,1388.8C1096.1,1388.2 1105.2,1388.2 1114.3,1388.0" fill="none" stroke="#00ff00" stroke-width="7.4" stroke-linejoin="round"/>
<path d="M1114.3,1408.9C1110.2,1408.8 1106.9,1408.6 1102.0,1408.6C1094.7,1408.6 1083.8,1408.9 1074.7,1409.5C1065.6,1410.2 1056.5,1411.3 1047.4,1412.6C1038.3,1413.9 1029.2,1415.6 1020.2,1417.6C1011.0,1419.5 1001.9,1421.8 992.9,1424.3C983.8,1426.8 974.7,1429.6 965.6,1432.5C956.5,1435.5 947.4,1438.8 938.3,1442.2C929.2,1445.6 920.1,1449.2 911.0,1453.0C901.9,1456.7 892.8,1460.7 883.8,1464.7C874.6,1468.8 865.6,1473.0 856.5,1477.2C847.4,1481.5 838.3,1485.9 829.2,1490.4C820.1,1494.8 811.0,1499.3 801.9,1503.9C792.8,1508.4 783.7,1513.0 774.6,1517.6C765.6,1522.2 756.1,1526.5 747.4,1531.4C739.0,1536.0 731.0,1541.3 723.4,1546.0C716.3,1550.3 708.8,1554.3 703.2,1558.5C698.7,1561.9 695.3,1565.0 692.0,1568.8C688.6,1572.6 685.6,1577.0 683.1,1581.4C680.7,1585.5 679.2,1589.1 677.4,1594.2C675.0,1601.1 672.9,1610.0 671.1,1619.2C669.0,1630.4 668.1,1642.7 666.1,1656.8C663.5,1675.0 660.0,1698.6 656.5,1719.4C653.1,1740.3 649.2,1761.3 645.3,1782.0C641.5,1802.4 637.5,1823.7 633.6,1842.7C630.1,1859.6 626.0,1878.5 623.2,1890.3C621.6,1897.4 620.7,1900.5 618.9,1907.2C616.2,1917.3 611.6,1933.5 608.2,1944.8C605.5,1954.0 603.7,1961.5 600.6,1969.8C597.4,1978.3 592.7,1987.3 589.4,1995.2C586.6,2002.0 584.5,2008.0 581.8,2014.2C579.0,2020.4 576.1,2026.9 572.9,2032.4C570.1,2037.2 567.0,2041.1 564.0,2045.5C561.1,2050.1 558.3,2056.6 555.3,2059.3C553.5,2060.9 551.9,2061.0 549.9,2062.0C547.4,2063.2 544.7,2064.6 541.7,2066.1C537.7,2068.1 533.4,2070.2 528.0,2072.8C520.5,2076.5 509.9,2081.7 500.8,2086.0C491.7,2090.3 482.6,2094.5 473.5,2098.6C464.4,2102.6 455.3,2106.6 446.2,2110.4C437.1,2114.1 428.0,2117.8 418.9,2121.2C409.9,2124.6 400.8,2127.9 391.6,2130.9C382.6,2133.9 373.5,2136.7 364.4,2139.3C355.3,2141.8 346.2,2144.1 337.1,2146.1C328.0,2148.1 318.9,2149.8 309.8,2151.2C300.7,2152.5 291.6,2153.6 282.5,2154.3C273.4,2155.0 262.8,2155.3 255.2,2155.4C249.8,2155.4 246.0,2155.2 241.3,2155.1 M241.3,2155.1C245.4,2155.2 248.7,2155.4 253.6,2155.4C260.9,2155.4 271.8,2155.1 280.9,2154.5C290.0,2153.8 299.1,2152.7 308.2,2151.4C317.3,2150.1 326.4,2148.4 335.4,2146.4C344.6,2144.5 353.7,2142.2 362.7,2139.7C371.8,2137.2 380.9,2134.4 390.0,2131.5C399.1,2128.5 408.2,2125.2 417.3,2121.8C426.4,2118.4 435.5,2114.8 444.6,2111.0C453.7,2107.3 462.8,2103.3 471.8,2099.3C481.0,2095.2 490.0,2091.0 499.1,2086.8C508.2,2082.5 517.3,2078.1 526.4,2073.6C535.5,2069.2 544.6,2064.7 553.7,2060.1C562.8,2055.6 571.9,2051.0 581.0,2046.4C590.0,2041.8 599.5,2037.5 608.2,2032.6C616.6,2028.0 624.6,2022.7 632.2,2018.0C639.3,2013.7 646.8,2009.7 652.4,2005.5C656.9,2002.1 660.3,1999.0 663.6,1995.2C667.0,1991.4 670.0,1987.0 672.5,1982.6C674.9,1978.5 676.4,1974.9 678.2,1969.8C680.6,1962.9 682.7,1954.0 684.5,1944.8C686.6,1933.6 687.5,1921.3 689.5,1907.2C692.1,1889.0 695.6,1865.4 699.1,1844.6C702.5,1823.7 706.4,1802.7 710.3,1782.0C714.1,1761.6 718.1,1740.3 722.0,1721.3C725.5,1704.4 729.6,1685.5 732.4,1673.7C734.0,1666.6 734.9,1663.5 736.7,1656.8C739.4,1646.7 744.0,1630.5 747.4,1619.2C750.1,1610.0 751.9,1602.5 755.0,1594.2C758.2,1585.7 762.9,1576.7 766.2,1568.8C769.0,1562.0 771.1,1556.0 773.8,1549.8C776.6,1543.6 779.5,1537.1 782.7,1531.6C785.5,1526.8 788.6,1522.9 791.6,1518.5C794.5,1513.9 797.3,1507.4 800.3,1504.7C802.1,1503.1 803.7,1503.0 805.7,1502.0C808.2,1500.8 810.9,1499.4 813.9,1497.9C817.9,1495.9 822.2,1493.8 827.6,1491.2C835.1,1487.5 845.7,1482.3 854.8,1478.0C863.9,1473.7 873.0,1469.5 882.1,1465.4C891.2,1461.4 900.3,1457.4 909.4,1453.6C918.5,1449.9 927.6,1446.2 936.7,1442.8C945.7,1439.4 954.8,1436.1 964.0,1433.1C973.0,1430.1 982.1,1427.3 991.2,1424.7C1000.3,1422.2 1009.4,1419.9 1018.5,1417.9C1027.6,1415.9 1036.7,1414.2 1045.8,1412.8C1054.9,1411.5 1064.0,1410.4 1073.1,1409.7C1082.2,1409.0 1092.8,1408.7 1100.4,1408.6C1105.8,1408.6 1109.6,1408.8 1114.3,1408.9" fill="none" stroke="#4400ff" stroke-width="7.4" stroke-linejoin="round"/>
<clipPath id="ci"><rect x="811.1" y="1845.4" width="276.19999999999993" height="290.5999999999999"/></clipPath>
<rect x="811.10" y="1845.40" width="276.20" height="290.60" fill="#fff" stroke="none" stroke-width="0"/>
<line x1="897.41" y1="1845.40" x2="897.41" y2="2136.00" stroke="#cccccc" stroke-width="1.6" stroke-dasharray="6,6"/>
<line x1="1000.99" y1="1845.40" x2="1000.99" y2="2136.00" stroke="#cccccc" stroke-width="1.6" stroke-dasharray="6,6"/>
<line x1="811.10" y1="2063.35" x2="1087.30" y2="2063.35" stroke="#cccccc" stroke-width="1.6" stroke-dasharray="6,6"/>
<line x1="811.10" y1="1918.05" x2="1087.30" y2="1918.05" stroke="#cccccc" stroke-width="1.6" stroke-dasharray="6,6"/>
<line x1="845.63" y1="1845.40" x2="845.63" y2="2136.00" stroke="#9c9c9c" stroke-width="1.8" />
<line x1="949.20" y1="1845.40" x2="949.20" y2="2136.00" stroke="#9c9c9c" stroke-width="1.8" />
<line x1="1052.78" y1="1845.40" x2="1052.78" y2="2136.00" stroke="#9c9c9c" stroke-width="1.8" />
<line x1="811.10" y1="1990.70" x2="1087.30" y2="1990.70" stroke="#9c9c9c" stroke-width="1.8" />
<line x1="845.63" y1="2136.00" x2="845.63" y2="2115.00" stroke="#000" stroke-width="3" />
<line x1="949.20" y1="2136.00" x2="949.20" y2="2115.00" stroke="#000" stroke-width="3" />
<line x1="1052.78" y1="2136.00" x2="1052.78" y2="2115.00" stroke="#000" stroke-width="3" />
<line x1="897.41" y1="2136.00" x2="897.41" y2="2126.00" stroke="#000" stroke-width="3" />
<line x1="1000.99" y1="2136.00" x2="1000.99" y2="2126.00" stroke="#000" stroke-width="3" />
<line x1="811.10" y1="2136.00" x2="829.10" y2="2136.00" stroke="#000" stroke-width="3" />
<line x1="811.10" y1="1990.70" x2="829.10" y2="1990.70" stroke="#000" stroke-width="3" />
<line x1="811.10" y1="1845.40" x2="829.10" y2="1845.40" stroke="#000" stroke-width="3" />
<line x1="811.10" y1="2063.35" x2="821.10" y2="2063.35" stroke="#000" stroke-width="3" />
<line x1="811.10" y1="1918.05" x2="821.10" y2="1918.05" stroke="#000" stroke-width="3" />
<g clip-path="url(#ci)">
<path d="M2054.0,1605.8C2045.7,1605.7 2039.5,1605.6 2029.1,1605.6C2011.9,1605.6 1983.1,1605.7 1960.1,1606.4C1937.1,1607.0 1914.0,1608.1 1891.0,1609.4C1868.0,1610.8 1845.0,1612.6 1822.0,1614.6C1799.0,1616.6 1775.9,1619.0 1752.9,1621.7C1729.9,1624.3 1706.9,1627.3 1683.9,1630.5C1660.9,1633.7 1637.8,1637.2 1614.8,1640.9C1591.8,1644.6 1568.8,1648.6 1545.8,1652.7C1522.8,1656.9 1499.7,1661.2 1476.7,1665.8C1453.7,1670.3 1430.7,1675.0 1407.7,1679.9C1384.7,1684.8 1361.6,1689.8 1338.6,1695.0C1315.6,1700.1 1292.6,1705.4 1269.6,1710.8C1246.6,1716.1 1223.6,1721.6 1200.5,1727.1C1177.5,1732.7 1152.3,1738.3 1131.5,1743.9C1114.1,1748.6 1098.4,1753.0 1083.8,1758.2C1071.1,1762.8 1059.4,1766.6 1048.6,1772.8C1038.2,1778.8 1029.2,1787.2 1020.0,1794.5C1011.2,1801.7 1002.0,1808.0 994.5,1816.3C986.8,1824.9 981.5,1833.1 974.7,1845.4C964.7,1863.8 952.7,1893.6 943.7,1918.1C934.8,1942.0 928.7,1966.5 920.9,1990.7C913.1,2015.0 905.9,2039.3 896.7,2063.3C887.3,2087.8 877.3,2115.5 865.0,2136.0C854.7,2153.2 841.7,2166.8 830.4,2179.6C820.7,2190.6 811.5,2201.1 801.8,2208.7C793.5,2215.0 784.9,2218.3 776.6,2223.2C768.4,2228.0 759.9,2233.8 752.4,2237.7C746.3,2240.9 740.7,2243.4 735.1,2245.3C730.4,2246.9 726.4,2247.4 721.3,2248.6C715.1,2250.1 708.4,2251.7 700.6,2253.6C690.6,2256.0 679.6,2258.7 666.1,2261.9C647.0,2266.4 620.1,2272.7 597.0,2278.0C574.0,2283.3 551.0,2288.4 528.0,2293.5C505.0,2298.5 482.0,2303.4 458.9,2308.1C435.9,2312.8 412.9,2317.4 389.9,2321.8C366.9,2326.1 343.9,2330.3 320.8,2334.3C297.8,2338.2 274.8,2342.0 251.8,2345.5C228.8,2349.0 205.8,2352.2 182.7,2355.2C159.7,2358.1 136.7,2360.8 113.7,2363.2C90.7,2365.6 67.7,2367.7 44.6,2369.4C21.6,2371.2 -1.4,2372.6 -24.4,2373.6C-47.4,2374.7 -71.0,2375.4 -93.5,2375.7C-114.7,2376.0 -134.9,2375.6 -155.6,2375.6 M-155.6,2375.6C-147.3,2375.7 -141.1,2375.8 -130.7,2375.8C-113.5,2375.8 -84.7,2375.7 -61.7,2375.0C-38.7,2374.4 -15.6,2373.3 7.4,2372.0C30.4,2370.6 53.4,2368.8 76.4,2366.8C99.4,2364.8 122.5,2362.4 145.5,2359.7C168.5,2357.1 191.5,2354.1 214.5,2350.9C237.5,2347.7 260.6,2344.2 283.6,2340.5C306.6,2336.8 329.6,2332.8 352.6,2328.7C375.6,2324.5 398.7,2320.2 421.7,2315.6C444.7,2311.1 467.7,2306.4 490.7,2301.5C513.7,2296.6 536.8,2291.6 559.8,2286.4C582.8,2281.3 605.8,2276.0 628.8,2270.6C651.8,2265.3 674.8,2259.8 697.9,2254.3C720.9,2248.7 746.1,2243.1 766.9,2237.5C784.3,2232.8 800.0,2228.4 814.6,2223.2C827.3,2218.6 839.0,2214.8 849.8,2208.7C860.2,2202.6 869.2,2194.2 878.4,2186.9C887.2,2179.7 896.4,2173.4 903.9,2165.1C911.6,2156.5 916.9,2148.3 923.7,2136.0C933.7,2117.6 945.7,2087.8 954.7,2063.3C963.6,2039.4 969.7,2014.9 977.5,1990.7C985.3,1966.4 992.5,1942.1 1001.7,1918.1C1011.1,1893.6 1021.1,1865.9 1033.4,1845.4C1043.7,1828.2 1056.7,1814.6 1068.0,1801.8C1077.7,1790.8 1086.9,1780.3 1096.6,1772.8C1104.9,1766.4 1113.5,1763.1 1121.8,1758.2C1130.0,1753.4 1138.5,1747.6 1146.0,1743.7C1152.1,1740.5 1157.7,1738.0 1163.3,1736.1C1168.0,1734.5 1172.0,1734.0 1177.1,1732.8C1183.3,1731.3 1190.0,1729.7 1197.8,1727.8C1207.8,1725.4 1218.8,1722.7 1232.3,1719.5C1251.4,1715.0 1278.3,1708.7 1301.4,1703.4C1324.4,1698.1 1347.4,1693.0 1370.4,1687.9C1393.4,1682.9 1416.4,1678.0 1439.5,1673.3C1462.5,1668.6 1485.5,1664.0 1508.5,1659.6C1531.5,1655.3 1554.5,1651.1 1577.6,1647.1C1600.6,1643.2 1623.6,1639.4 1646.6,1635.9C1669.6,1632.4 1692.6,1629.2 1715.7,1626.2C1738.7,1623.3 1761.7,1620.6 1784.7,1618.2C1807.7,1615.8 1830.7,1613.7 1853.8,1612.0C1876.8,1610.2 1899.8,1608.8 1922.8,1607.8C1945.8,1606.7 1969.4,1606.0 1991.9,1605.7C2013.1,1605.4 2033.3,1605.8 2054.0,1605.8" fill="none" stroke="#ff0000" stroke-width="7.4" stroke-linejoin="round"/>
<path d="M2054.0,1543.1C2042.5,1543.0 2033.0,1542.8 2019.5,1543.0C2000.4,1543.1 1973.4,1543.6 1950.4,1544.4C1927.4,1545.2 1904.4,1546.4 1881.4,1547.9C1858.3,1549.4 1835.3,1551.2 1812.3,1553.3C1789.3,1555.4 1766.3,1557.8 1743.3,1560.5C1720.2,1563.2 1697.2,1566.1 1674.2,1569.3C1651.2,1572.5 1628.2,1576.0 1605.2,1579.6C1582.1,1583.2 1559.1,1587.1 1536.1,1591.2C1513.1,1595.2 1490.1,1599.5 1467.1,1603.9C1444.0,1608.3 1421.0,1613.0 1398.0,1617.7C1375.0,1622.4 1352.0,1627.3 1329.0,1632.3C1305.9,1637.3 1282.9,1642.4 1259.9,1647.6C1236.9,1652.8 1213.9,1658.1 1190.9,1663.4C1167.9,1668.8 1144.7,1673.2 1121.8,1679.7C1098.7,1686.3 1073.4,1693.2 1052.8,1703.0C1034.3,1711.8 1017.0,1722.3 1003.1,1734.2C990.5,1745.1 979.9,1757.6 972.0,1770.6C964.6,1782.7 960.7,1796.3 956.1,1809.1C951.8,1821.3 948.9,1831.1 945.1,1845.4C939.6,1865.4 933.1,1893.8 927.8,1918.1C922.5,1942.2 918.4,1966.5 913.3,1990.7C908.2,2014.9 903.0,2039.2 897.4,2063.3C891.8,2087.6 886.1,2115.0 879.5,2136.0C874.2,2152.6 868.1,2166.6 862.4,2179.6C857.6,2190.4 853.7,2199.1 848.0,2208.7C842.1,2218.7 834.3,2229.2 827.3,2238.1C821.1,2246.2 815.1,2254.2 808.3,2260.2C802.3,2265.6 795.2,2269.6 789.0,2273.3C783.6,2276.5 779.3,2278.0 773.1,2281.3C764.3,2286.0 751.2,2294.1 741.4,2299.5C733.0,2304.1 725.2,2308.3 717.9,2311.8C711.6,2314.9 705.6,2317.8 699.9,2319.7C695.1,2321.3 691.2,2321.8 686.1,2322.9C679.9,2324.4 673.2,2325.9 665.4,2327.7C655.4,2330.0 644.4,2332.5 630.9,2335.5C611.8,2339.8 584.9,2345.8 561.8,2350.8C538.8,2355.7 515.8,2360.6 492.8,2365.3C469.8,2370.0 446.8,2374.5 423.7,2378.9C400.7,2383.3 377.7,2387.5 354.7,2391.6C331.7,2395.6 308.7,2399.4 285.6,2403.0C262.6,2406.6 239.6,2410.0 216.6,2413.1C193.6,2416.3 170.6,2419.2 147.5,2421.8C124.5,2424.4 101.5,2426.7 78.5,2428.8C55.5,2430.8 32.5,2432.6 9.4,2434.0C-13.6,2435.4 -36.6,2436.5 -59.6,2437.3C-82.6,2438.0 -111.0,2438.4 -128.7,2438.5C-139.7,2438.5 -146.6,2438.4 -155.6,2438.3 M-155.6,2438.3C-144.1,2438.4 -134.6,2438.6 -121.1,2438.4C-102.0,2438.3 -75.0,2437.8 -52.0,2437.0C-29.0,2436.2 -6.0,2435.0 17.0,2433.5C40.1,2432.0 63.1,2430.2 86.1,2428.1C109.1,2426.0 132.1,2423.6 155.1,2420.9C178.2,2418.2 201.2,2415.3 224.2,2412.1C247.2,2408.9 270.2,2405.4 293.2,2401.8C316.3,2398.2 339.3,2394.3 362.3,2390.2C385.3,2386.2 408.3,2381.9 431.3,2377.5C454.4,2373.1 477.4,2368.4 500.4,2363.7C523.4,2359.0 546.4,2354.1 569.4,2349.1C592.5,2344.1 615.5,2339.0 638.5,2333.8C661.5,2328.6 684.5,2323.3 707.5,2318.0C730.5,2312.6 753.7,2308.2 776.6,2301.7C799.7,2295.1 825.0,2288.2 845.6,2278.4C864.1,2269.6 881.4,2259.1 895.3,2247.2C907.9,2236.3 918.5,2223.8 926.4,2210.8C933.8,2198.7 937.7,2185.1 942.3,2172.3C946.6,2160.1 949.5,2150.3 953.3,2136.0C958.8,2116.0 965.3,2087.6 970.6,2063.3C975.9,2039.2 980.0,2014.9 985.1,1990.7C990.2,1966.5 995.4,1942.2 1001.0,1918.1C1006.6,1893.8 1012.3,1866.4 1018.9,1845.4C1024.2,1828.8 1030.3,1814.8 1036.0,1801.8C1040.8,1791.0 1044.7,1782.3 1050.4,1772.8C1056.3,1762.7 1064.1,1752.2 1071.1,1743.3C1077.3,1735.2 1083.3,1727.2 1090.1,1721.2C1096.1,1715.8 1103.2,1711.8 1109.4,1708.1C1114.8,1704.9 1119.1,1703.4 1125.3,1700.1C1134.1,1695.4 1147.2,1687.3 1157.0,1681.9C1165.4,1677.3 1173.2,1673.1 1180.5,1669.6C1186.8,1666.5 1192.8,1663.6 1198.5,1661.7C1203.3,1660.1 1207.2,1659.6 1212.3,1658.5C1218.5,1657.0 1225.2,1655.5 1233.0,1653.7C1243.0,1651.4 1254.0,1648.9 1267.5,1645.9C1286.6,1641.6 1313.5,1635.6 1336.6,1630.6C1359.6,1625.7 1382.6,1620.8 1405.6,1616.1C1428.6,1611.4 1451.6,1606.9 1474.7,1602.5C1497.7,1598.1 1520.7,1593.9 1543.7,1589.8C1566.7,1585.8 1589.7,1582.0 1612.8,1578.4C1635.8,1574.8 1658.8,1571.4 1681.8,1568.3C1704.8,1565.1 1727.8,1562.2 1750.9,1559.6C1773.9,1557.0 1796.9,1554.7 1819.9,1552.6C1842.9,1550.6 1865.9,1548.8 1889.0,1547.4C1912.0,1546.0 1935.0,1544.9 1958.0,1544.1C1981.0,1543.4 2009.4,1543.0 2027.1,1542.9C2038.1,1542.9 2045.0,1543.0 2054.0,1543.1" fill="none" stroke="#f08228" stroke-width="7.4" stroke-linejoin="round"/>
<path d="M2054.0,1533.4C2042.5,1533.5 2033.0,1533.4 2019.5,1533.6C2000.4,1533.9 1973.4,1534.6 1950.4,1535.7C1927.4,1536.7 1904.4,1538.2 1881.4,1539.9C1858.3,1541.6 1835.3,1543.7 1812.3,1546.1C1789.3,1548.4 1766.3,1551.1 1743.3,1554.0C1720.2,1557.0 1697.2,1560.2 1674.2,1563.6C1651.2,1567.1 1628.2,1570.8 1605.2,1574.7C1582.1,1578.6 1559.1,1582.7 1536.1,1587.0C1513.1,1591.3 1490.1,1595.8 1467.1,1600.4C1444.0,1605.0 1421.0,1609.8 1398.0,1614.7C1375.0,1619.6 1352.0,1624.7 1329.0,1629.8C1305.9,1634.9 1282.9,1640.2 1259.9,1645.5C1236.9,1650.8 1213.9,1656.2 1190.9,1661.6C1167.9,1667.0 1144.5,1671.4 1121.8,1677.9C1099.3,1684.3 1072.5,1693.0 1055.1,1700.1C1043.4,1704.9 1036.0,1708.8 1026.5,1713.9C1016.8,1719.2 1006.1,1724.9 997.5,1731.6C989.6,1737.7 982.8,1744.9 976.8,1752.0C971.3,1758.7 967.1,1765.1 962.6,1772.8C957.5,1781.5 952.4,1790.9 948.2,1801.8C943.3,1814.7 940.2,1829.0 935.7,1845.4C930.1,1866.5 923.3,1893.8 917.4,1918.1C911.6,1942.2 907.6,1966.6 900.9,1990.7C894.0,2015.1 885.0,2039.2 876.7,2063.3C868.4,2087.6 860.1,2115.1 851.1,2136.0C844.0,2152.6 836.3,2166.7 829.1,2179.6C823.0,2190.4 818.3,2199.2 811.4,2208.7C804.0,2218.8 794.0,2229.1 785.8,2238.1C778.6,2246.1 772.1,2253.0 765.1,2260.2C758.2,2267.4 752.3,2274.5 744.3,2281.3C735.1,2289.1 722.0,2297.1 712.4,2303.8C704.3,2309.4 697.3,2314.9 690.3,2319.1C684.3,2322.7 678.6,2325.9 673.0,2327.9C668.3,2329.7 664.3,2330.0 659.2,2331.1C653.0,2332.6 646.3,2334.1 638.5,2335.9C628.4,2338.2 617.4,2340.8 604.0,2343.8C584.9,2348.1 557.9,2354.2 534.9,2359.2C511.9,2364.2 488.9,2369.2 465.9,2374.0C442.8,2378.7 419.8,2383.4 396.8,2387.9C373.8,2392.3 350.8,2396.6 327.8,2400.7C304.8,2404.8 281.7,2408.8 258.7,2412.4C235.7,2416.1 212.7,2419.6 189.7,2422.8C166.7,2425.9 143.6,2428.9 120.6,2431.6C97.6,2434.2 74.6,2436.6 51.6,2438.7C28.5,2440.7 5.5,2442.5 -17.5,2443.9C-40.5,2445.3 -63.5,2446.4 -86.5,2447.0C-109.6,2447.7 -132.6,2447.7 -155.6,2448.0 M-155.6,2448.0C-144.1,2447.9 -134.6,2448.0 -121.1,2447.8C-102.0,2447.5 -75.0,2446.8 -52.0,2445.7C-29.0,2444.7 -6.0,2443.2 17.0,2441.5C40.1,2439.8 63.1,2437.7 86.1,2435.3C109.1,2433.0 132.1,2430.3 155.1,2427.4C178.2,2424.4 201.2,2421.2 224.2,2417.8C247.2,2414.3 270.2,2410.6 293.2,2406.7C316.3,2402.8 339.3,2398.7 362.3,2394.4C385.3,2390.1 408.3,2385.6 431.3,2381.0C454.4,2376.4 477.4,2371.6 500.4,2366.7C523.4,2361.8 546.4,2356.7 569.4,2351.6C592.5,2346.5 615.5,2341.2 638.5,2335.9C661.5,2330.6 684.5,2325.2 707.5,2319.8C730.5,2314.4 753.9,2310.0 776.6,2303.5C799.1,2297.1 825.9,2288.4 843.3,2281.3C855.0,2276.5 862.4,2272.6 871.9,2267.5C881.6,2262.2 892.3,2256.5 900.9,2249.8C908.8,2243.7 915.6,2236.5 921.6,2229.4C927.1,2222.7 931.3,2216.3 935.8,2208.7C940.9,2199.9 946.0,2190.5 950.2,2179.6C955.1,2166.7 958.2,2152.4 962.7,2136.0C968.3,2114.9 975.1,2087.6 981.0,2063.3C986.8,2039.2 990.8,2014.8 997.5,1990.7C1004.4,1966.3 1013.4,1942.2 1021.7,1918.1C1030.0,1893.8 1038.3,1866.3 1047.3,1845.4C1054.4,1828.8 1062.1,1814.7 1069.3,1801.8C1075.4,1791.0 1080.1,1782.2 1087.0,1772.8C1094.4,1762.6 1104.4,1752.3 1112.6,1743.3C1119.8,1735.3 1126.3,1728.4 1133.3,1721.2C1140.2,1714.0 1146.1,1706.9 1154.1,1700.1C1163.3,1692.3 1176.4,1684.3 1186.0,1677.6C1194.1,1672.0 1201.1,1666.5 1208.1,1662.3C1214.1,1658.7 1219.8,1655.5 1225.4,1653.5C1230.1,1651.7 1234.1,1651.4 1239.2,1650.3C1245.4,1648.8 1252.1,1647.3 1259.9,1645.5C1270.0,1643.2 1281.0,1640.6 1294.4,1637.6C1313.5,1633.3 1340.5,1627.2 1363.5,1622.2C1386.5,1617.2 1409.5,1612.2 1432.5,1607.4C1455.6,1602.7 1478.6,1598.0 1501.6,1593.5C1524.6,1589.1 1547.6,1584.8 1570.6,1580.7C1593.6,1576.6 1616.7,1572.6 1639.7,1569.0C1662.7,1565.3 1685.7,1561.8 1708.7,1558.6C1731.7,1555.5 1754.8,1552.5 1777.8,1549.8C1800.8,1547.2 1823.8,1544.8 1846.8,1542.7C1869.9,1540.7 1892.9,1538.9 1915.9,1537.5C1938.9,1536.1 1961.9,1535.0 1984.9,1534.4C2008.0,1533.7 2031.0,1533.7 2054.0,1533.4" fill="none" stroke="#00ff00" stroke-width="7.4" stroke-linejoin="round"/>
<path d="M2054.0,1557.8C2043.6,1557.6 2035.3,1557.4 2022.9,1557.4C2004.4,1557.4 1976.9,1557.7 1953.9,1558.4C1930.9,1559.2 1907.8,1560.4 1884.8,1562.0C1861.8,1563.5 1838.8,1565.5 1815.8,1567.8C1792.7,1570.0 1769.7,1572.7 1746.7,1575.6C1723.7,1578.5 1700.7,1581.7 1677.7,1585.1C1654.6,1588.6 1631.6,1592.4 1608.6,1596.3C1585.6,1600.3 1562.6,1604.5 1539.6,1608.8C1516.5,1613.2 1493.5,1617.8 1470.5,1622.5C1447.5,1627.2 1424.5,1632.1 1401.5,1637.0C1378.4,1642.0 1355.4,1647.1 1332.4,1652.2C1309.4,1657.4 1286.4,1662.7 1263.4,1667.9C1240.4,1673.2 1217.3,1678.6 1194.3,1683.9C1171.3,1689.2 1147.5,1694.1 1125.3,1699.8C1104.3,1705.2 1083.9,1711.3 1064.5,1716.8C1046.7,1721.8 1027.8,1726.3 1013.4,1731.3C1002.5,1735.2 993.8,1738.6 985.1,1743.3C977.0,1747.6 969.0,1752.6 962.6,1757.9C957.0,1762.5 952.8,1766.6 948.2,1772.8C942.5,1780.5 936.8,1790.9 932.3,1801.8C927.0,1814.6 924.6,1829.1 919.5,1845.4C912.9,1866.6 904.0,1893.9 895.3,1918.1C886.6,1942.4 876.7,1966.7 867.0,1990.7C857.4,2014.4 847.2,2039.2 837.3,2061.2C828.5,2080.8 818.1,2102.7 811.1,2116.4C806.8,2124.7 804.8,2128.2 800.2,2136.0C793.3,2147.7 781.5,2166.6 773.1,2179.6C766.2,2190.3 761.3,2199.3 753.8,2208.7C745.6,2218.8 733.9,2228.9 725.5,2238.1C718.3,2246.0 713.0,2253.1 706.1,2260.2C699.1,2267.5 691.4,2275.1 683.7,2281.3C676.4,2287.1 668.7,2291.4 661.3,2296.6C653.8,2301.8 646.0,2309.4 639.2,2312.5C634.3,2314.7 630.4,2314.5 625.4,2315.7C619.1,2317.1 612.4,2318.6 604.6,2320.4C594.6,2322.7 583.6,2325.2 570.1,2328.2C551.1,2332.5 524.1,2338.5 501.1,2343.5C478.1,2348.5 455.0,2353.4 432.0,2358.1C409.0,2362.8 386.0,2367.4 363.0,2371.8C340.0,2376.2 317.0,2380.4 293.9,2384.4C270.9,2388.3 247.9,2392.1 224.9,2395.6C201.9,2399.1 178.9,2402.4 155.8,2405.3C132.8,2408.2 109.8,2410.9 86.8,2413.2C63.8,2415.5 40.7,2417.5 17.7,2419.1C-5.3,2420.7 -28.3,2422.0 -51.3,2422.8C-74.3,2423.6 -101.2,2424.0 -120.4,2424.0C-134.1,2424.1 -143.9,2423.8 -155.6,2423.6 M-155.6,2423.6C-145.2,2423.8 -136.9,2424.0 -124.5,2424.0C-106.0,2424.0 -78.5,2423.7 -55.5,2423.0C-32.5,2422.2 -9.4,2421.0 13.6,2419.4C36.6,2417.9 59.6,2415.9 82.6,2413.6C105.7,2411.4 128.7,2408.7 151.7,2405.8C174.7,2402.9 197.7,2399.7 220.7,2396.3C243.8,2392.8 266.8,2389.0 289.8,2385.1C312.8,2381.1 335.8,2376.9 358.8,2372.6C381.9,2368.2 404.9,2363.6 427.9,2358.9C450.9,2354.2 473.9,2349.3 496.9,2344.4C520.0,2339.4 543.0,2334.3 566.0,2329.2C589.0,2324.0 612.0,2318.7 635.0,2313.5C658.0,2308.2 681.1,2302.8 704.1,2297.5C727.1,2292.2 750.9,2287.3 773.1,2281.6C794.1,2276.2 814.5,2270.1 833.9,2264.6C851.7,2259.6 870.6,2255.1 885.0,2250.1C895.9,2246.2 904.6,2242.8 913.3,2238.1C921.4,2233.8 929.4,2228.8 935.8,2223.5C941.4,2218.9 945.6,2214.8 950.2,2208.7C955.9,2200.9 961.6,2190.5 966.1,2179.6C971.4,2166.8 973.8,2152.3 978.9,2136.0C985.5,2114.8 994.4,2087.5 1003.1,2063.3C1011.8,2039.0 1021.7,2014.7 1031.4,1990.7C1041.0,1967.0 1051.2,1942.2 1061.1,1920.2C1069.9,1900.6 1080.3,1878.7 1087.3,1865.0C1091.6,1856.7 1093.6,1853.2 1098.2,1845.4C1105.1,1833.7 1116.9,1814.8 1125.3,1801.8C1132.2,1791.1 1137.1,1782.1 1144.6,1772.8C1152.8,1762.6 1164.5,1752.5 1172.9,1743.3C1180.1,1735.4 1185.4,1728.3 1192.3,1721.2C1199.3,1713.9 1207.0,1706.3 1214.7,1700.1C1222.0,1694.3 1229.7,1690.0 1237.1,1684.8C1244.6,1679.6 1252.4,1672.0 1259.2,1668.9C1264.1,1666.7 1268.0,1666.9 1273.0,1665.7C1279.3,1664.3 1286.0,1662.8 1293.8,1661.0C1303.8,1658.7 1314.8,1656.2 1328.3,1653.2C1347.3,1648.9 1374.3,1642.9 1397.3,1637.9C1420.3,1632.9 1443.4,1628.0 1466.4,1623.3C1489.4,1618.6 1512.4,1614.0 1535.4,1609.6C1558.4,1605.2 1581.4,1601.0 1604.5,1597.0C1627.5,1593.1 1650.5,1589.3 1673.5,1585.8C1696.5,1582.3 1719.5,1579.0 1742.6,1576.1C1765.6,1573.2 1788.6,1570.5 1811.6,1568.2C1834.6,1565.9 1857.7,1563.9 1880.7,1562.3C1903.7,1560.7 1926.7,1559.4 1949.7,1558.6C1972.7,1557.8 1999.6,1557.4 2018.8,1557.4C2032.5,1557.3 2042.3,1557.6 2054.0,1557.8" fill="none" stroke="#4400ff" stroke-width="7.4" stroke-linejoin="round"/>
</g>
<rect x="811.10" y="1845.40" width="276.20" height="290.60" fill="none" stroke="#000" stroke-width="3"/>
<text transform="translate(790.00,1861.00) scale(1,1.04)" font-size="52" text-anchor="end" fill="#000" >20</text>
<text transform="translate(790.00,2004.80) scale(1,1.04)" font-size="52" text-anchor="end" fill="#000" >0</text>
<text transform="translate(790.00,2148.60) scale(1,1.04)" font-size="52" text-anchor="end" fill="#000" >-20</text>
<text transform="translate(843.63,2200.50) scale(1,1.04)" font-size="52" text-anchor="middle" fill="#000" >-150</text>
<text transform="translate(949.20,2200.50) scale(1,1.04)" font-size="52" text-anchor="middle" fill="#000" >0</text>
<text transform="translate(1052.78,2200.50) scale(1,1.04)" font-size="52" text-anchor="middle" fill="#000" >150</text>
<rect x="214.70" y="1345.30" width="927.30" height="875.70" fill="none" stroke="#000" stroke-width="3"/>
<text transform="translate(266.60,2285.30) scale(1,1.04)" font-size="52" text-anchor="middle" fill="#000" >-1500</text>
<text transform="translate(471.20,2285.30) scale(1,1.04)" font-size="52" text-anchor="middle" fill="#000" >-750</text>
<text transform="translate(677.80,2285.30) scale(1,1.04)" font-size="52" text-anchor="middle" fill="#000" >0</text>
<text transform="translate(882.40,2285.30) scale(1,1.04)" font-size="52" text-anchor="middle" fill="#000" >750</text>
<text transform="translate(1087.00,2285.30) scale(1,1.04)" font-size="52" text-anchor="middle" fill="#000" >1500</text>
<text transform="translate(193.00,2172.10) scale(1,1.04)" font-size="52" text-anchor="end" fill="#000" >-60</text>
<text transform="translate(193.00,2046.90) scale(1,1.04)" font-size="52" text-anchor="end" fill="#000" >-40</text>
<text transform="translate(193.00,1921.70) scale(1,1.04)" font-size="52" text-anchor="end" fill="#000" >-20</text>
<text transform="translate(193.00,1796.50) scale(1,1.04)" font-size="52" text-anchor="end" fill="#000" >0</text>
<text transform="translate(193.00,1671.30) scale(1,1.04)" font-size="52" text-anchor="end" fill="#000" >20</text>
<text transform="translate(193.00,1546.10) scale(1,1.04)" font-size="52" text-anchor="end" fill="#000" >40</text>
<text transform="translate(193.00,1420.90) scale(1,1.04)" font-size="52" text-anchor="end" fill="#000" >60</text>
<rect x="389.70" y="1243.20" width="588.30" height="83.30" fill="#fff" stroke="#6e6e6e" stroke-width="2"/>
<text transform="translate(398.90,1296.50) scale(1,1.04)" font-size="52" text-anchor="start" fill="#000" word-spacing="1.8">d<tspan font-size="35" dy="15">cal</tspan><tspan dy="-15"> = 3 h</tspan>, T<tspan font-size="35" dy="15">cal</tspan><tspan dy="-15"> = 1200 °C</tspan></text>
<text transform="translate(187.50,1305.30) scale(1,1.0)" font-size="65" text-anchor="start" fill="#000" >(c)</text>
<text transform="translate(679.50,2368.00) scale(1,1.04)" font-size="64" text-anchor="middle" fill="#000" word-spacing="3">H [kA/m]</text>
<text transform="translate(86.4,1765) rotate(-90) scale(1,1.04)" font-size="64" word-spacing="3" text-anchor="middle">M [Am²/kg]</text>
<line x1="1530.70" y1="1345.50" x2="1530.70" y2="2221.00" stroke="#e6e6e6" stroke-width="1.4" stroke-dasharray="1.5,1.5"/>
<line x1="1735.30" y1="1345.50" x2="1735.30" y2="2221.00" stroke="#e6e6e6" stroke-width="1.4" stroke-dasharray="1.5,1.5"/>
<line x1="1939.90" y1="1345.50" x2="1939.90" y2="2221.00" stroke="#e6e6e6" stroke-width="1.4" stroke-dasharray="1.5,1.5"/>
<line x1="2144.50" y1="1345.50" x2="2144.50" y2="2221.00" stroke="#e6e6e6" stroke-width="1.4" stroke-dasharray="1.5,1.5"/>
<line x1="1374.30" y1="2095.00" x2="2301.00" y2="2095.00" stroke="#e6e6e6" stroke-width="1.4" stroke-dasharray="1.5,1.5"/>
<line x1="1374.30" y1="1969.80" x2="2301.00" y2="1969.80" stroke="#e6e6e6" stroke-width="1.4" stroke-dasharray="1.5,1.5"/>
<line x1="1374.30" y1="1844.60" x2="2301.00" y2="1844.60" stroke="#e6e6e6" stroke-width="1.4" stroke-dasharray="1.5,1.5"/>
<line x1="1374.30" y1="1719.40" x2="2301.00" y2="1719.40" stroke="#e6e6e6" stroke-width="1.4" stroke-dasharray="1.5,1.5"/>
<line x1="1374.30" y1="1594.20" x2="2301.00" y2="1594.20" stroke="#e6e6e6" stroke-width="1.4" stroke-dasharray="1.5,1.5"/>
<line x1="1374.30" y1="1469.00" x2="2301.00" y2="1469.00" stroke="#e6e6e6" stroke-width="1.4" stroke-dasharray="1.5,1.5"/>
<line x1="1428.40" y1="1345.50" x2="1428.40" y2="2221.00" stroke="#bdbdbd" stroke-width="1.4" />
<line x1="1633.00" y1="1345.50" x2="1633.00" y2="2221.00" stroke="#bdbdbd" stroke-width="1.4" />
<line x1="1837.60" y1="1345.50" x2="1837.60" y2="2221.00" stroke="#bdbdbd" stroke-width="1.4" />
<line x1="2042.20" y1="1345.50" x2="2042.20" y2="2221.00" stroke="#bdbdbd" stroke-width="1.4" />
<line x1="2246.80" y1="1345.50" x2="2246.80" y2="2221.00" stroke="#bdbdbd" stroke-width="1.4" />
<line x1="1374.30" y1="2157.60" x2="2301.00" y2="2157.60" stroke="#bdbdbd" stroke-width="1.4" />
<line x1="1374.30" y1="2032.40" x2="2301.00" y2="2032.40" stroke="#bdbdbd" stroke-width="1.4" />
<line x1="1374.30" y1="1907.20" x2="2301.00" y2="1907.20" stroke="#bdbdbd" stroke-width="1.4" />
<line x1="1374.30" y1="1782.00" x2="2301.00" y2="1782.00" stroke="#bdbdbd" stroke-width="1.4" />
<line x1="1374.30" y1="1656.80" x2="2301.00" y2="1656.80" stroke="#bdbdbd" stroke-width="1.4" />
<line x1="1374.30" y1="1531.60" x2="2301.00" y2="1531.60" stroke="#bdbdbd" stroke-width="1.4" />
<line x1="1374.30" y1="1406.40" x2="2301.00" y2="1406.40" stroke="#bdbdbd" stroke-width="1.4" />
<line x1="1428.40" y1="2221.00" x2="1428.40" y2="2209.00" stroke="#5a5a5a" stroke-width="2" />
<line x1="1633.00" y1="2221.00" x2="1633.00" y2="2209.00" stroke="#5a5a5a" stroke-width="2" />
<line x1="1837.60" y1="2221.00" x2="1837.60" y2="2209.00" stroke="#5a5a5a" stroke-width="2" />
<line x1="2042.20" y1="2221.00" x2="2042.20" y2="2209.00" stroke="#5a5a5a" stroke-width="2" />
<line x1="2246.80" y1="2221.00" x2="2246.80" y2="2209.00" stroke="#5a5a5a" stroke-width="2" />
<line x1="1530.70" y1="2221.00" x2="1530.70" y2="2215.50" stroke="#5a5a5a" stroke-width="2" />
<line x1="1735.30" y1="2221.00" x2="1735.30" y2="2215.50" stroke="#5a5a5a" stroke-width="2" />
<line x1="1939.90" y1="2221.00" x2="1939.90" y2="2215.50" stroke="#5a5a5a" stroke-width="2" />
<line x1="2144.50" y1="2221.00" x2="2144.50" y2="2215.50" stroke="#5a5a5a" stroke-width="2" />
<line x1="1374.30" y1="2157.60" x2="1385.30" y2="2157.60" stroke="#5a5a5a" stroke-width="2" />
<line x1="1374.30" y1="2032.40" x2="1385.30" y2="2032.40" stroke="#5a5a5a" stroke-width="2" />
<line x1="1374.30" y1="1907.20" x2="1385.30" y2="1907.20" stroke="#5a5a5a" stroke-width="2" />
<line x1="1374.30" y1="1782.00" x2="1385.30" y2="1782.00" stroke="#5a5a5a" stroke-width="2" />
<line x1="1374.30" y1="1656.80" x2="1385.30" y2="1656.80" stroke="#5a5a5a" stroke-width="2" />
<line x1="1374.30" y1="1531.60" x2="1385.30" y2="1531.60" stroke="#5a5a5a" stroke-width="2" />
<line x1="1374.30" y1="1406.40" x2="1385.30" y2="1406.40" stroke="#5a5a5a" stroke-width="2" />
<line x1="1374.30" y1="2095.00" x2="1379.80" y2="2095.00" stroke="#5a5a5a" stroke-width="2" />
<line x1="1374.30" y1="1969.80" x2="1379.80" y2="1969.80" stroke="#5a5a5a" stroke-width="2" />
<line x1="1374.30" y1="1844.60" x2="1379.80" y2="1844.60" stroke="#5a5a5a" stroke-width="2" />
<line x1="1374.30" y1="1719.40" x2="1379.80" y2="1719.40" stroke="#5a5a5a" stroke-width="2" />
<line x1="1374.30" y1="1594.20" x2="1379.80" y2="1594.20" stroke="#5a5a5a" stroke-width="2" />
<line x1="1374.30" y1="1469.00" x2="1379.80" y2="1469.00" stroke="#5a5a5a" stroke-width="2" />
<path d="M2274.1,1412.8C2265.0,1412.5 2255.9,1411.6 2246.8,1411.7C2237.7,1411.8 2228.6,1412.5 2219.5,1413.4C2210.4,1414.4 2201.3,1415.8 2192.2,1417.4C2183.1,1419.0 2174.0,1421.1 2165.0,1423.2C2155.8,1425.5 2146.7,1428.0 2137.7,1430.6C2128.6,1433.3 2119.5,1436.2 2110.4,1439.2C2101.3,1442.2 2092.2,1445.5 2083.1,1448.8C2074.0,1452.2 2064.9,1455.7 2055.8,1459.3C2046.7,1463.0 2037.6,1466.7 2028.6,1470.7C2019.4,1474.6 2010.3,1478.6 2001.3,1482.8C1992.2,1487.1 1983.1,1491.4 1974.0,1495.9C1964.9,1500.5 1955.8,1505.2 1946.7,1510.1C1937.6,1515.1 1928.5,1520.2 1919.4,1525.6C1910.3,1531.1 1901.2,1536.7 1892.2,1542.7C1883.0,1548.8 1873.9,1555.1 1864.9,1561.8C1855.7,1568.6 1845.6,1574.9 1837.6,1583.3C1829.3,1591.9 1823.3,1604.0 1816.1,1613.0C1809.8,1621.0 1803.5,1627.5 1797.2,1634.9C1790.9,1642.3 1783.8,1650.3 1778.2,1657.4C1773.5,1663.5 1769.4,1668.9 1765.6,1675.0C1761.8,1680.8 1758.3,1686.8 1755.5,1693.1C1752.7,1699.5 1750.8,1706.2 1748.9,1713.1C1747.0,1720.5 1745.7,1729.7 1744.3,1736.3C1743.3,1741.2 1742.5,1743.9 1741.6,1749.1C1740.1,1757.5 1738.2,1771.2 1736.7,1782.0C1735.1,1792.6 1733.6,1802.9 1732.3,1813.3C1731.0,1823.7 1729.9,1834.4 1728.8,1844.6C1727.7,1854.2 1726.7,1863.7 1725.8,1872.8C1724.8,1881.4 1724.0,1888.8 1723.0,1897.8C1721.9,1908.4 1720.5,1920.6 1719.2,1932.2C1717.9,1944.3 1717.1,1957.3 1715.4,1969.2C1713.8,1980.2 1711.9,1990.5 1709.7,2001.1C1707.4,2011.8 1704.8,2024.3 1702.0,2033.0C1700.0,2039.2 1698.2,2043.7 1695.7,2048.7C1693.4,2053.5 1690.4,2058.2 1687.6,2062.4C1684.9,2066.3 1682.1,2069.7 1679.4,2073.1C1676.8,2076.3 1674.3,2080.2 1671.7,2082.2C1669.9,2083.5 1668.3,2083.8 1666.3,2084.7C1663.8,2085.8 1661.2,2087.0 1658.1,2088.3C1654.1,2090.1 1649.8,2092.0 1644.5,2094.3C1636.9,2097.5 1626.3,2101.9 1617.2,2105.6C1608.1,2109.2 1599.0,2112.7 1589.9,2116.0C1580.8,2119.3 1571.7,2122.5 1562.6,2125.5C1553.5,2128.5 1544.5,2131.4 1535.3,2134.0C1526.3,2136.7 1517.2,2139.1 1508.1,2141.3C1499.0,2143.4 1489.9,2145.4 1480.8,2147.0C1471.7,2148.6 1462.6,2149.9 1453.5,2150.8C1444.4,2151.7 1435.1,2152.2 1426.2,2152.3C1417.7,2152.3 1409.5,2151.6 1401.1,2151.2 M1401.1,2151.2C1410.2,2151.5 1419.3,2152.4 1428.4,2152.3C1437.5,2152.2 1446.6,2151.5 1455.7,2150.6C1464.8,2149.6 1473.9,2148.2 1483.0,2146.6C1492.1,2145.0 1501.2,2142.9 1510.2,2140.8C1519.4,2138.5 1528.5,2136.0 1537.5,2133.4C1546.6,2130.7 1555.7,2127.8 1564.8,2124.8C1573.9,2121.8 1583.0,2118.5 1592.1,2115.2C1601.2,2111.8 1610.3,2108.3 1619.4,2104.7C1628.5,2101.0 1637.6,2097.3 1646.6,2093.3C1655.8,2089.4 1664.9,2085.4 1673.9,2081.2C1683.0,2076.9 1692.1,2072.6 1701.2,2068.1C1710.3,2063.5 1719.4,2058.8 1728.5,2053.9C1737.6,2048.9 1746.7,2043.8 1755.8,2038.4C1764.9,2032.9 1774.0,2027.3 1783.0,2021.3C1792.2,2015.2 1801.3,2008.9 1810.3,2002.2C1819.5,1995.4 1829.6,1989.1 1837.6,1980.7C1845.9,1972.1 1851.9,1960.0 1859.1,1951.0C1865.4,1943.0 1871.7,1936.5 1878.0,1929.1C1884.3,1921.7 1891.4,1913.7 1897.0,1906.6C1901.7,1900.5 1905.8,1895.1 1909.6,1889.0C1913.4,1883.2 1916.9,1877.2 1919.7,1870.9C1922.5,1864.5 1924.4,1857.8 1926.3,1850.9C1928.2,1843.5 1929.5,1834.3 1930.9,1827.7C1931.9,1822.8 1932.7,1820.1 1933.6,1814.9C1935.1,1806.5 1937.0,1792.8 1938.5,1782.0C1940.1,1771.4 1941.6,1761.1 1942.9,1750.7C1944.2,1740.3 1945.3,1729.6 1946.4,1719.4C1947.5,1709.8 1948.5,1700.3 1949.4,1691.2C1950.4,1682.6 1951.2,1675.2 1952.2,1666.2C1953.3,1655.6 1954.7,1643.4 1956.0,1631.8C1957.3,1619.7 1958.1,1606.7 1959.8,1594.8C1961.4,1583.8 1963.3,1573.5 1965.5,1562.9C1967.8,1552.2 1970.4,1539.7 1973.2,1531.0C1975.2,1524.8 1977.0,1520.3 1979.5,1515.3C1981.8,1510.5 1984.8,1505.8 1987.6,1501.6C1990.3,1497.7 1993.1,1494.3 1995.8,1490.9C1998.4,1487.7 2000.9,1483.8 2003.5,1481.8C2005.3,1480.5 2006.9,1480.2 2008.9,1479.3C2011.4,1478.2 2014.0,1477.0 2017.1,1475.7C2021.1,1473.9 2025.4,1472.0 2030.7,1469.7C2038.3,1466.5 2048.9,1462.1 2058.0,1458.4C2067.1,1454.8 2076.2,1451.3 2085.3,1448.0C2094.4,1444.7 2103.5,1441.5 2112.6,1438.5C2121.7,1435.5 2130.7,1432.6 2139.9,1430.0C2148.9,1427.3 2158.0,1424.9 2167.1,1422.7C2176.2,1420.6 2185.3,1418.6 2194.4,1417.0C2203.5,1415.4 2212.6,1414.1 2221.7,1413.2C2230.8,1412.3 2240.1,1411.8 2249.0,1411.7C2257.5,1411.7 2265.7,1412.4 2274.1,1412.8" fill="none" stroke="#ff0000" stroke-width="7.4" stroke-linejoin="round"/>
<path d="M2274.1,1416.7C2268.4,1416.6 2263.3,1416.3 2256.9,1416.5C2248.8,1416.6 2238.7,1417.1 2229.6,1418.0C2220.5,1418.8 2211.4,1420.1 2202.3,1421.5C2193.2,1423.0 2184.1,1424.8 2175.1,1426.8C2165.9,1428.8 2156.8,1431.0 2147.8,1433.5C2138.7,1435.9 2129.6,1438.6 2120.5,1441.4C2111.4,1444.2 2102.3,1447.2 2093.2,1450.3C2084.1,1453.5 2075.0,1456.8 2065.9,1460.2C2056.8,1463.7 2047.7,1467.3 2038.7,1471.0C2029.5,1474.8 2020.4,1478.7 2011.4,1482.7C2002.3,1486.8 1993.2,1491.0 1984.1,1495.3C1975.0,1499.7 1965.9,1504.3 1956.8,1509.0C1947.7,1513.8 1938.6,1518.7 1929.5,1523.9C1920.4,1529.2 1911.3,1534.6 1902.3,1540.2C1893.1,1546.0 1884.0,1552.0 1875.0,1558.3C1865.8,1564.7 1854.3,1572.1 1847.7,1578.3C1843.2,1582.6 1840.6,1585.9 1837.6,1590.4C1834.3,1595.5 1832.0,1601.3 1828.8,1607.3C1825.0,1614.5 1820.5,1623.1 1816.1,1630.5C1812.0,1637.5 1807.9,1644.3 1803.5,1650.5C1799.4,1656.4 1795.2,1661.7 1790.9,1666.8C1786.8,1671.7 1782.4,1675.8 1778.2,1680.6C1773.9,1685.6 1769.5,1691.0 1765.6,1696.2C1761.9,1701.2 1758.4,1706.7 1755.5,1711.3C1753.1,1714.9 1751.7,1718.0 1749.2,1721.3C1746.5,1724.9 1742.7,1727.9 1739.9,1731.9C1736.9,1736.4 1734.2,1741.9 1731.8,1746.9C1729.5,1751.7 1727.5,1756.0 1725.8,1761.3C1723.7,1767.5 1722.0,1774.4 1720.3,1782.0C1718.2,1791.3 1715.9,1802.8 1714.3,1813.3C1712.7,1823.7 1711.7,1834.8 1710.5,1844.6C1709.4,1853.4 1708.3,1861.0 1707.2,1869.6C1706.1,1878.7 1705.0,1887.8 1703.9,1897.8C1702.7,1909.1 1701.7,1922.1 1700.4,1934.1C1699.1,1945.9 1697.7,1957.8 1696.3,1969.2C1695.0,1980.1 1693.7,1990.5 1692.2,2001.1C1690.7,2011.8 1689.4,2025.1 1687.0,2033.0C1685.5,2038.1 1683.7,2041.1 1681.6,2044.9C1679.4,2048.8 1676.3,2052.4 1673.9,2056.2C1671.5,2059.9 1669.7,2063.3 1667.1,2067.5C1663.9,2072.6 1659.7,2081.7 1656.2,2084.7C1654.3,2086.3 1652.7,2086.2 1650.7,2087.0C1648.3,2088.1 1645.6,2089.2 1642.5,2090.5C1638.6,2092.2 1634.2,2094.0 1628.9,2096.1C1621.4,2099.1 1610.7,2103.3 1601.6,2106.7C1592.6,2110.0 1583.5,2113.2 1574.3,2116.3C1565.3,2119.3 1556.2,2122.3 1547.1,2125.0C1538.0,2127.7 1528.9,2130.2 1519.8,2132.5C1510.7,2134.9 1501.6,2137.0 1492.5,2138.8C1483.4,2140.7 1474.3,2142.3 1465.2,2143.6C1456.2,2144.9 1447.1,2146.0 1437.9,2146.7C1428.9,2147.3 1417.4,2147.5 1410.7,2147.5C1406.7,2147.5 1404.3,2147.4 1401.1,2147.3 M1401.1,2147.3C1406.8,2147.4 1411.9,2147.7 1418.3,2147.5C1426.4,2147.4 1436.5,2146.9 1445.6,2146.0C1454.7,2145.2 1463.8,2143.9 1472.9,2142.5C1482.0,2141.0 1491.1,2139.2 1500.1,2137.2C1509.3,2135.2 1518.4,2133.0 1527.4,2130.5C1536.5,2128.1 1545.6,2125.4 1554.7,2122.6C1563.8,2119.8 1572.9,2116.8 1582.0,2113.7C1591.1,2110.5 1600.2,2107.2 1609.3,2103.8C1618.4,2100.3 1627.5,2096.7 1636.5,2093.0C1645.7,2089.2 1654.8,2085.3 1663.8,2081.3C1672.9,2077.2 1682.0,2073.0 1691.1,2068.7C1700.2,2064.3 1709.3,2059.7 1718.4,2055.0C1727.5,2050.2 1736.6,2045.3 1745.7,2040.1C1754.8,2034.8 1763.9,2029.4 1772.9,2023.8C1782.1,2018.0 1791.2,2012.0 1800.2,2005.7C1809.4,1999.3 1820.9,1991.9 1827.5,1985.7C1832.0,1981.4 1834.6,1978.1 1837.6,1973.6C1840.9,1968.5 1843.2,1962.7 1846.4,1956.7C1850.2,1949.5 1854.7,1940.9 1859.1,1933.5C1863.2,1926.5 1867.3,1919.7 1871.7,1913.5C1875.8,1907.6 1880.0,1902.3 1884.3,1897.2C1888.4,1892.3 1892.8,1888.2 1897.0,1883.4C1901.3,1878.4 1905.7,1873.0 1909.6,1867.8C1913.3,1862.8 1916.8,1857.3 1919.7,1852.7C1922.1,1849.1 1923.5,1846.0 1926.0,1842.7C1928.7,1839.1 1932.5,1836.1 1935.3,1832.1C1938.3,1827.6 1941.0,1822.1 1943.4,1817.1C1945.7,1812.3 1947.7,1808.0 1949.4,1802.7C1951.5,1796.5 1953.2,1789.6 1954.9,1782.0C1957.0,1772.7 1959.3,1761.2 1960.9,1750.7C1962.5,1740.3 1963.5,1729.2 1964.7,1719.4C1965.8,1710.6 1966.9,1703.0 1968.0,1694.4C1969.1,1685.3 1970.2,1676.2 1971.3,1666.2C1972.5,1654.9 1973.5,1641.9 1974.8,1629.9C1976.1,1618.1 1977.5,1606.2 1978.9,1594.8C1980.2,1583.9 1981.5,1573.5 1983.0,1562.9C1984.5,1552.2 1985.8,1538.9 1988.2,1531.0C1989.7,1525.9 1991.5,1522.9 1993.6,1519.1C1995.8,1515.2 1998.9,1511.6 2001.3,1507.8C2003.7,1504.1 2005.5,1500.7 2008.1,1496.5C2011.3,1491.4 2015.5,1482.3 2019.0,1479.3C2020.9,1477.7 2022.5,1477.8 2024.5,1477.0C2026.9,1475.9 2029.6,1474.8 2032.7,1473.5C2036.6,1471.8 2041.0,1470.0 2046.3,1467.9C2053.8,1464.9 2064.5,1460.7 2073.6,1457.3C2082.6,1454.0 2091.7,1450.8 2100.9,1447.7C2109.9,1444.7 2119.0,1441.7 2128.1,1439.0C2137.2,1436.3 2146.3,1433.8 2155.4,1431.5C2164.5,1429.1 2173.6,1427.0 2182.7,1425.2C2191.8,1423.3 2200.9,1421.7 2210.0,1420.4C2219.0,1419.1 2228.1,1418.0 2237.3,1417.3C2246.3,1416.7 2257.8,1416.5 2264.5,1416.5C2268.5,1416.5 2270.9,1416.6 2274.1,1416.7" fill="none" stroke="#f08228" stroke-width="7.4" stroke-linejoin="round"/>
<path d="M2274.1,1401.8C2265.0,1401.9 2255.9,1401.6 2246.8,1402.0C2237.7,1402.5 2228.6,1403.4 2219.5,1404.7C2210.4,1405.9 2201.3,1407.5 2192.2,1409.3C2183.1,1411.1 2174.0,1413.3 2165.0,1415.7C2155.8,1418.0 2146.7,1420.7 2137.7,1423.5C2128.6,1426.3 2119.5,1429.3 2110.4,1432.5C2101.3,1435.7 2092.2,1439.1 2083.1,1442.6C2074.0,1446.1 2064.9,1449.8 2055.8,1453.6C2046.7,1457.4 2037.6,1461.4 2028.6,1465.4C2019.4,1469.5 2010.3,1473.8 2001.3,1478.1C1992.2,1482.5 1983.1,1487.0 1974.0,1491.7C1964.9,1496.4 1955.8,1501.2 1946.7,1506.2C1937.6,1511.2 1928.5,1516.4 1919.4,1521.8C1910.3,1527.2 1901.2,1532.8 1892.2,1538.6C1883.0,1544.5 1873.9,1550.6 1864.9,1557.0C1855.7,1563.4 1844.2,1569.8 1837.6,1577.1C1832.4,1582.9 1830.4,1589.6 1826.7,1595.5C1823.2,1600.9 1820.3,1605.5 1816.1,1611.1C1810.9,1618.1 1803.5,1626.1 1797.2,1633.6C1790.9,1641.2 1783.8,1649.0 1778.2,1656.2C1773.5,1662.3 1769.4,1667.7 1765.6,1673.7C1761.8,1679.6 1758.5,1685.8 1755.5,1691.9C1752.6,1697.7 1750.0,1702.8 1747.9,1709.4C1745.4,1717.3 1744.0,1727.9 1742.1,1736.3C1740.5,1743.7 1738.7,1749.7 1737.2,1757.0C1735.6,1764.9 1734.2,1773.2 1732.8,1782.0C1731.3,1791.8 1729.8,1802.9 1728.5,1813.3C1727.2,1823.7 1726.1,1834.4 1724.9,1844.6C1723.9,1854.2 1722.9,1863.7 1721.9,1872.8C1721.0,1881.4 1720.2,1888.8 1719.2,1897.8C1718.0,1908.4 1716.6,1920.6 1715.4,1932.2C1714.1,1944.3 1713.2,1957.3 1711.6,1969.2C1710.0,1980.2 1708.1,1990.5 1705.8,2001.1C1703.5,2011.8 1700.5,2024.3 1697.7,2033.0C1695.6,2039.2 1693.8,2043.6 1691.4,2048.7C1689.0,2053.8 1686.1,2058.9 1683.2,2063.7C1680.3,2068.5 1677.2,2073.0 1673.9,2077.5C1670.5,2082.1 1666.3,2088.5 1663.0,2091.0C1661.1,2092.6 1659.6,2092.7 1657.6,2093.6C1655.1,2094.7 1652.4,2095.9 1649.4,2097.3C1645.4,2099.1 1641.1,2101.1 1635.7,2103.4C1628.2,2106.7 1617.6,2111.2 1608.4,2114.9C1599.4,2118.6 1590.3,2122.2 1581.2,2125.6C1572.1,2128.9 1563.0,2132.2 1553.9,2135.2C1544.8,2138.3 1535.7,2141.2 1526.6,2143.8C1517.5,2146.4 1508.5,2148.9 1499.3,2151.1C1490.3,2153.2 1481.2,2155.2 1472.0,2156.8C1463.0,2158.4 1453.9,2159.7 1444.8,2160.7C1435.7,2161.6 1425.4,2162.2 1417.5,2162.4C1411.3,2162.5 1406.6,2162.2 1401.1,2162.2 M1401.1,2162.2C1410.2,2162.1 1419.3,2162.4 1428.4,2162.0C1437.5,2161.5 1446.6,2160.6 1455.7,2159.3C1464.8,2158.1 1473.9,2156.5 1483.0,2154.7C1492.1,2152.9 1501.2,2150.7 1510.2,2148.3C1519.4,2146.0 1528.5,2143.3 1537.5,2140.5C1546.6,2137.7 1555.7,2134.7 1564.8,2131.5C1573.9,2128.3 1583.0,2124.9 1592.1,2121.4C1601.2,2117.9 1610.3,2114.2 1619.4,2110.4C1628.5,2106.6 1637.6,2102.6 1646.6,2098.6C1655.8,2094.5 1664.9,2090.2 1673.9,2085.9C1683.0,2081.5 1692.1,2077.0 1701.2,2072.3C1710.3,2067.6 1719.4,2062.8 1728.5,2057.8C1737.6,2052.8 1746.7,2047.6 1755.8,2042.2C1764.9,2036.8 1774.0,2031.2 1783.0,2025.4C1792.2,2019.5 1801.3,2013.4 1810.3,2007.0C1819.5,2000.6 1831.0,1994.2 1837.6,1986.9C1842.8,1981.1 1844.8,1974.4 1848.5,1968.5C1852.0,1963.1 1854.9,1958.5 1859.1,1952.9C1864.3,1945.9 1871.7,1937.9 1878.0,1930.4C1884.3,1922.8 1891.4,1915.0 1897.0,1907.8C1901.7,1901.7 1905.8,1896.3 1909.6,1890.3C1913.4,1884.4 1916.7,1878.2 1919.7,1872.1C1922.6,1866.3 1925.2,1861.2 1927.3,1854.6C1929.8,1846.7 1931.2,1836.1 1933.1,1827.7C1934.7,1820.3 1936.5,1814.3 1938.0,1807.0C1939.6,1799.1 1941.0,1790.8 1942.4,1782.0C1943.9,1772.2 1945.4,1761.1 1946.7,1750.7C1948.0,1740.3 1949.1,1729.6 1950.3,1719.4C1951.3,1709.8 1952.3,1700.3 1953.3,1691.2C1954.2,1682.6 1955.0,1675.2 1956.0,1666.2C1957.2,1655.6 1958.6,1643.4 1959.8,1631.8C1961.1,1619.7 1962.0,1606.7 1963.6,1594.8C1965.2,1583.8 1967.1,1573.5 1969.4,1562.9C1971.7,1552.2 1974.7,1539.7 1977.5,1531.0C1979.6,1524.8 1981.4,1520.4 1983.8,1515.3C1986.2,1510.2 1989.1,1505.1 1992.0,1500.3C1994.9,1495.5 1998.0,1491.0 2001.3,1486.5C2004.7,1481.9 2008.9,1475.5 2012.2,1473.0C2014.1,1471.4 2015.6,1471.3 2017.6,1470.4C2020.1,1469.3 2022.8,1468.1 2025.8,1466.7C2029.8,1464.9 2034.1,1462.9 2039.5,1460.6C2047.0,1457.3 2057.6,1452.8 2066.8,1449.1C2075.8,1445.4 2084.9,1441.8 2094.0,1438.4C2103.1,1435.1 2112.2,1431.8 2121.3,1428.8C2130.4,1425.7 2139.5,1422.8 2148.6,1420.2C2157.7,1417.6 2166.7,1415.1 2175.9,1412.9C2184.9,1410.8 2194.0,1408.8 2203.2,1407.2C2212.2,1405.6 2221.3,1404.3 2230.4,1403.3C2239.5,1402.4 2249.8,1401.8 2257.7,1401.6C2263.9,1401.5 2268.6,1401.8 2274.1,1401.8" fill="none" stroke="#00ff00" stroke-width="7.4" stroke-linejoin="round"/>
<path d="M2274.1,1435.2C2265.0,1435.5 2255.9,1435.5 2246.8,1436.1C2237.7,1436.6 2228.6,1437.4 2219.5,1438.5C2210.4,1439.5 2201.3,1440.8 2192.2,1442.2C2183.1,1443.7 2174.0,1445.4 2165.0,1447.3C2155.8,1449.2 2146.8,1451.2 2137.7,1453.5C2128.6,1455.7 2119.5,1458.2 2110.4,1460.8C2101.3,1463.4 2092.2,1466.2 2083.1,1469.1C2074.0,1472.1 2064.9,1475.2 2055.8,1478.5C2046.7,1481.8 2037.6,1485.3 2028.6,1488.9C2019.4,1492.6 2010.3,1496.4 2001.3,1500.4C1992.2,1504.5 1983.1,1508.7 1974.0,1513.1C1964.9,1517.5 1955.8,1522.1 1946.7,1526.9C1937.6,1531.8 1928.5,1536.8 1919.4,1542.0C1910.3,1547.4 1901.2,1552.9 1892.2,1558.6C1883.0,1564.4 1873.9,1570.5 1864.9,1576.8C1855.7,1583.1 1846.1,1590.2 1837.6,1596.7C1830.0,1602.5 1822.8,1607.2 1816.1,1613.6C1809.3,1620.2 1803.5,1628.1 1797.2,1635.5C1790.9,1643.0 1783.8,1650.9 1778.2,1658.1C1773.5,1664.2 1769.4,1669.6 1765.6,1675.6C1761.8,1681.5 1758.5,1687.7 1755.5,1693.7C1752.6,1699.6 1750.3,1704.8 1747.9,1711.3C1745.2,1718.8 1742.8,1728.4 1740.3,1736.3C1738.2,1743.5 1736.1,1749.7 1734.0,1757.0C1731.8,1764.9 1729.8,1773.2 1727.7,1782.0C1725.4,1791.8 1722.8,1802.8 1720.8,1813.3C1718.9,1823.7 1717.5,1834.4 1715.9,1844.6C1714.4,1854.2 1712.9,1863.7 1711.6,1872.8C1710.3,1881.4 1709.2,1888.8 1708.0,1897.8C1706.6,1908.4 1705.1,1920.6 1703.7,1932.2C1702.1,1944.3 1701.2,1957.8 1699.0,1969.2C1697.1,1979.3 1694.5,1988.9 1691.9,1997.3C1689.8,2004.5 1687.6,2010.6 1685.1,2016.8C1682.8,2022.5 1679.8,2028.2 1677.5,2033.0C1675.5,2037.0 1674.0,2040.3 1672.0,2043.7C1670.1,2047.0 1667.9,2050.2 1665.7,2053.1C1663.8,2055.6 1661.8,2057.7 1659.7,2059.9C1657.6,2062.1 1655.4,2064.3 1653.2,2066.2C1651.1,2068.0 1648.7,2069.4 1646.6,2071.2C1644.5,2073.1 1642.8,2076.0 1640.6,2077.4C1638.9,2078.6 1637.2,2078.8 1635.2,2079.6C1632.7,2080.5 1630.1,2081.5 1627.0,2082.7C1623.0,2084.2 1618.7,2085.8 1613.4,2087.6C1605.8,2090.3 1595.2,2093.9 1586.1,2096.8C1577.0,2099.7 1567.9,2102.4 1558.8,2104.9C1549.7,2107.5 1540.6,2109.8 1531.5,2112.0C1522.4,2114.1 1513.4,2116.1 1504.2,2117.9C1495.2,2119.7 1486.1,2121.3 1477.0,2122.7C1467.9,2124.1 1458.8,2125.2 1449.7,2126.2C1440.6,2127.1 1430.9,2127.8 1422.4,2128.3C1414.9,2128.7 1408.2,2128.6 1401.1,2128.8 M1401.1,2128.8C1410.2,2128.5 1419.3,2128.5 1428.4,2127.9C1437.5,2127.4 1446.6,2126.6 1455.7,2125.5C1464.8,2124.5 1473.9,2123.2 1483.0,2121.8C1492.1,2120.3 1501.2,2118.6 1510.2,2116.7C1519.4,2114.8 1528.4,2112.8 1537.5,2110.5C1546.6,2108.3 1555.7,2105.8 1564.8,2103.2C1573.9,2100.6 1583.0,2097.8 1592.1,2094.9C1601.2,2091.9 1610.3,2088.8 1619.4,2085.5C1628.5,2082.2 1637.6,2078.7 1646.6,2075.1C1655.8,2071.4 1664.9,2067.6 1673.9,2063.6C1683.0,2059.5 1692.1,2055.3 1701.2,2050.9C1710.3,2046.5 1719.4,2041.9 1728.5,2037.1C1737.6,2032.2 1746.7,2027.2 1755.8,2022.0C1764.9,2016.6 1774.0,2011.1 1783.0,2005.4C1792.2,1999.6 1801.3,1993.5 1810.3,1987.2C1819.5,1980.9 1829.1,1973.8 1837.6,1967.3C1845.2,1961.5 1852.4,1956.8 1859.1,1950.4C1865.9,1943.8 1871.7,1935.9 1878.0,1928.5C1884.3,1921.0 1891.4,1913.1 1897.0,1905.9C1901.7,1899.8 1905.8,1894.4 1909.6,1888.4C1913.4,1882.5 1916.7,1876.3 1919.7,1870.3C1922.6,1864.4 1924.9,1859.2 1927.3,1852.7C1930.0,1845.2 1932.4,1835.6 1934.9,1827.7C1937.0,1820.5 1939.1,1814.3 1941.2,1807.0C1943.4,1799.1 1945.4,1790.8 1947.5,1782.0C1949.8,1772.2 1952.4,1761.2 1954.4,1750.7C1956.3,1740.3 1957.7,1729.6 1959.3,1719.4C1960.8,1709.8 1962.3,1700.3 1963.6,1691.2C1964.9,1682.6 1966.0,1675.2 1967.2,1666.2C1968.6,1655.6 1970.1,1643.4 1971.5,1631.8C1973.1,1619.7 1974.0,1606.2 1976.2,1594.8C1978.1,1584.7 1980.7,1575.1 1983.3,1566.7C1985.4,1559.5 1987.6,1553.4 1990.1,1547.2C1992.4,1541.5 1995.4,1535.8 1997.7,1531.0C1999.7,1527.0 2001.2,1523.7 2003.2,1520.3C2005.1,1517.0 2007.3,1513.8 2009.5,1510.9C2011.4,1508.4 2013.4,1506.3 2015.5,1504.1C2017.6,1501.9 2019.8,1499.7 2022.0,1497.8C2024.1,1496.0 2026.5,1494.6 2028.6,1492.8C2030.7,1490.9 2032.4,1488.0 2034.6,1486.6C2036.3,1485.4 2038.0,1485.2 2040.0,1484.4C2042.5,1483.5 2045.1,1482.5 2048.2,1481.3C2052.2,1479.8 2056.5,1478.2 2061.8,1476.4C2069.4,1473.7 2080.0,1470.1 2089.1,1467.2C2098.2,1464.3 2107.3,1461.6 2116.4,1459.1C2125.5,1456.5 2134.6,1454.2 2143.7,1452.0C2152.8,1449.9 2161.8,1447.9 2171.0,1446.1C2180.0,1444.3 2189.1,1442.7 2198.2,1441.3C2207.3,1439.9 2216.4,1438.8 2225.5,1437.8C2234.6,1436.9 2244.3,1436.2 2252.8,1435.7C2260.3,1435.3 2267.0,1435.4 2274.1,1435.2" fill="none" stroke="#4400ff" stroke-width="7.4" stroke-linejoin="round"/>
<rect x="1374.30" y="1345.50" width="926.70" height="875.50" fill="none" stroke="#5a5a5a" stroke-width="2"/>
<text transform="translate(1426.40,2274.30) scale(1,1.04)" font-size="52" text-anchor="middle" fill="#000" >-1500</text>
<text transform="translate(1631.00,2274.30) scale(1,1.04)" font-size="52" text-anchor="middle" fill="#000" >-750</text>
<text transform="translate(1837.60,2274.30) scale(1,1.04)" font-size="52" text-anchor="middle" fill="#000" >0</text>
<text transform="translate(2042.20,2274.30) scale(1,1.04)" font-size="52" text-anchor="middle" fill="#000" >750</text>
<text transform="translate(2246.80,2274.30) scale(1,1.04)" font-size="52" text-anchor="middle" fill="#000" >1500</text>
<text transform="translate(1363.00,2171.60) scale(1,1.04)" font-size="52" text-anchor="end" fill="#000" >-60</text>
<text transform="translate(1363.00,2046.40) scale(1,1.04)" font-size="52" text-anchor="end" fill="#000" >-40</text>
<text transform="translate(1363.00,1921.20) scale(1,1.04)" font-size="52" text-anchor="end" fill="#000" >-20</text>
<text transform="translate(1363.00,1796.00) scale(1,1.04)" font-size="52" text-anchor="end" fill="#000" >0</text>
<text transform="translate(1363.00,1670.80) scale(1,1.04)" font-size="52" text-anchor="end" fill="#000" >20</text>
<text transform="translate(1363.00,1545.60) scale(1,1.04)" font-size="52" text-anchor="end" fill="#000" >40</text>
<text transform="translate(1363.00,1420.40) scale(1,1.04)" font-size="52" text-anchor="end" fill="#000" >60</text>
<rect x="1990.90" y="1928.70" width="289.00" height="268.30" fill="#fff" stroke="#5a5a5a" stroke-width="2"/>
<line x1="2023.00" y1="1965.40" x2="2092.50" y2="1965.40" stroke="#ff0000" stroke-width="7" stroke-linecap="round"/>
<text transform="translate(2133.60,1982.70) scale(1,1.04)" font-size="51" text-anchor="start" fill="#000" >pH 8</text>
<line x1="2023.00" y1="2030.73" x2="2092.50" y2="2030.73" stroke="#f08228" stroke-width="7" stroke-linecap="round"/>
<text transform="translate(2133.60,2048.03) scale(1,1.04)" font-size="51" text-anchor="start" fill="#000" >pH 10</text>
<line x1="2023.00" y1="2096.06" x2="2092.50" y2="2096.06" stroke="#00ff00" stroke-width="7" stroke-linecap="round"/>
<text transform="translate(2133.60,2113.36) scale(1,1.04)" font-size="51" text-anchor="start" fill="#000" >pH 12</text>
<line x1="2023.00" y1="2161.39" x2="2092.50" y2="2161.39" stroke="#4400ff" stroke-width="7" stroke-linecap="round"/>
<text transform="translate(2133.60,2178.69) scale(1,1.04)" font-size="51" text-anchor="start" fill="#000" >pH 13</text>
<rect x="1548.90" y="1241.30" width="588.30" height="83.50" fill="#fff" stroke="#6e6e6e" stroke-width="2"/>
<text transform="translate(1556.30,1295.40) scale(1,1.04)" font-size="52" text-anchor="start" fill="#000" word-spacing="1.8">d<tspan font-size="35" dy="15">cal</tspan><tspan dy="-15"> = 3 h</tspan>, T<tspan font-size="35" dy="15">cal</tspan><tspan dy="-15"> = 1000 °C</tspan></text>
<text transform="translate(1348.00,1304.60) scale(1,1.0)" font-size="65" text-anchor="start" fill="#000" >(d)</text>
<text transform="translate(1837.00,2377.20) scale(1,1.04)" font-size="64" text-anchor="middle" fill="#000" word-spacing="3">H [kA/m]</text>
<text transform="translate(1259.6,1765) rotate(-90) scale(1,1.04)" font-size="64" word-spacing="3" text-anchor="middle">M [Am²/kg]</text>
</svg>
</body></html>
